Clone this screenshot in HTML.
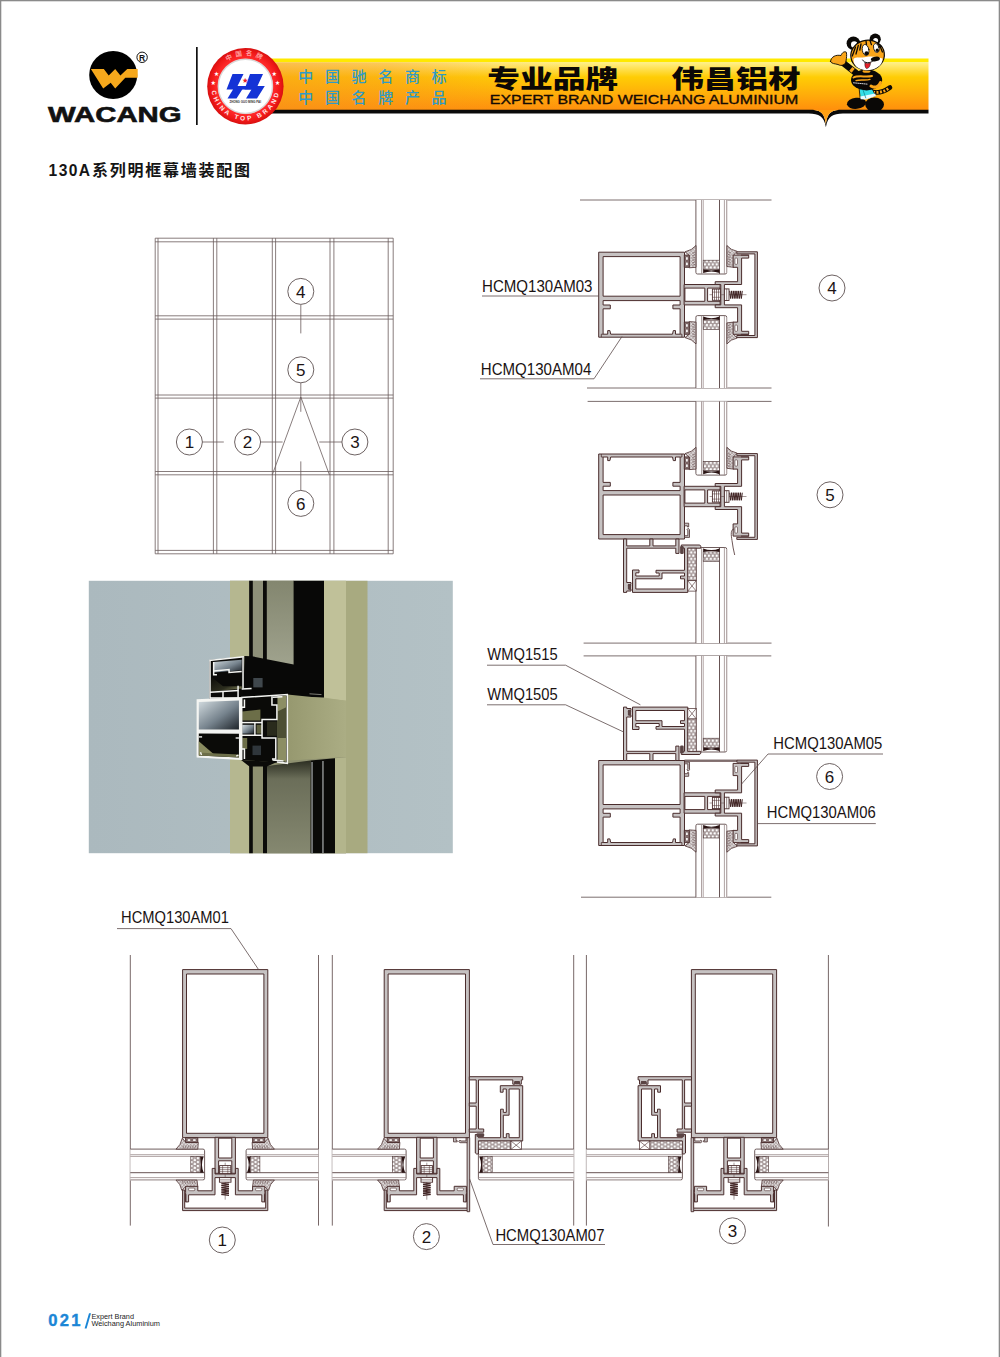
<!DOCTYPE html>
<html lang="zh"><head><meta charset="utf-8"><title>130A系列明框幕墙装配图</title>
<style>
html,body{margin:0;padding:0;background:#fff;}
body{width:1000px;height:1357px;overflow:hidden;position:relative;font-family:"Liberation Sans","Noto Sans CJK SC",sans-serif;}
svg{position:absolute;left:0;top:0;display:block}
text{font-family:"Liberation Sans","Noto Sans CJK SC",sans-serif}
.ln{stroke:#4a3a3a;fill:none;stroke-width:1}
.th{stroke:#6a5c5c;fill:none;stroke-width:0.8}
.al{fill:#c9c5c5;stroke:#4b3030;stroke-width:1;stroke-linejoin:miter}
.alw{fill:#fff;stroke:#4b3030;stroke-width:1}
.lab{font-size:16.5px;fill:#1a1414}
.num{font-size:17px;fill:#1a1414;text-anchor:middle}
</style></head><body>
<svg width="1000" height="1357" viewBox="0 0 1000 1357">
<defs>
<linearGradient id="gbv" x1="0" y1="0" x2="0" y2="1">
<stop offset="0" stop-color="#ffe900"/><stop offset="0.068" stop-color="#ffe900"/>
<stop offset="0.078" stop-color="#fff08a"/><stop offset="0.36" stop-color="#ffcd05"/>
<stop offset="0.7" stop-color="#ffad0a"/><stop offset="1" stop-color="#ff8f0c"/>
</linearGradient>
<linearGradient id="gbh" x1="0" y1="0" x2="1" y2="0">
<stop offset="0" stop-color="#f7931e" stop-opacity="0.55"/><stop offset="0.2" stop-color="#f7931e" stop-opacity="0.4"/>
<stop offset="0.36" stop-color="#f7931e" stop-opacity="0.1"/><stop offset="0.5" stop-color="#f7931e" stop-opacity="0"/><stop offset="1" stop-color="#f7931e" stop-opacity="0"/>
</linearGradient>
<radialGradient id="gred" cx="0.5" cy="0.5" r="0.5">
<stop offset="0.70" stop-color="#e8e8e8"/><stop offset="0.74" stop-color="#ff2a2a"/><stop offset="0.9" stop-color="#f01818"/><stop offset="1" stop-color="#d81010"/>
</radialGradient>
<path id="arcTop" d="M 214.5 86.5 A 31 31 0 0 1 276.5 86.5"/>
<path id="arcBot" d="M 211.5 86.5 A 34 34 0 0 0 279.5 86.5"/>
<pattern id="dots" width="3.9" height="6.4" patternUnits="userSpaceOnUse">
<rect width="3.9" height="6.4" fill="#a79a9a"/><circle cx="0.975" cy="1.6" r="1.22" fill="#fff"/><circle cx="2.925" cy="4.8" r="1.22" fill="#fff"/>
</pattern>
<pattern id="hat" width="2.4" height="2.4" patternUnits="userSpaceOnUse" patternTransform="rotate(45)">
<rect width="2.4" height="2.4" fill="#dfdbdb"/><rect width="2.4" height="0.55" fill="#a79999"/><rect width="0.55" height="2.4" fill="#a79999"/>
</pattern>
</defs>
<rect x="0" y="0" width="1000" height="1357" fill="#fff"/>
<rect x="0" y="0" width="1000" height="1.3" fill="#8a8a8a"/>
<rect x="0" y="0" width="1.3" height="1357" fill="#8a8a8a"/>
<rect x="998.7" y="0" width="1.3" height="1357" fill="#8a8a8a"/>
<circle cx="113.2" cy="75" r="24" fill="#000"/>
<polygon points="90.85,69.05 103.85,69.05 108.7,75.55 115.2,69.05 120.4,75.55 127.25,69.05 137.7,69.05 137.7,77.8 125.3,77.8 115.2,88.55 110.7,82.7 103.2,88.55" style="fill:#f6a81c" />
<circle cx="142.1" cy="57.3" r="5.2" fill="#fff" stroke="#111" stroke-width="1"/>
<text x="142.1" y="60.6" font-size="8.5" font-weight="bold" text-anchor="middle" fill="#111">R</text>
<text x="48" y="121.6" font-size="22.4" font-weight="bold" fill="#111" stroke="#111" stroke-width="0.6" textLength="133.6" lengthAdjust="spacingAndGlyphs">WACANG</text>
<rect x="196" y="47" width="1.7" height="78" fill="#111"/>
<rect x="255" y="58.5" width="673.5" height="51.5" fill="url(#gbv)"/>
<rect x="255" y="62.3" width="673.5" height="47.7" fill="url(#gbh)"/>
<path d="M 255 109.8 L 808.9 109.8 C 819.9 109.8 824.4 112 825.9 124.5 C 827.4 112 831.9 109.8 842.9 109.8 L 928.5 109.8 L 928.5 113.6 L 842.9 113.6 C 832.9 113.8 827.9 116 825.9 127.2 C 823.9 116 818.9 113.8 808.9 113.6 L 255 113.6 Z" fill="#0a0a0a"/>
<path d="M 809.9 109.9 C 819.9 109.9 824.4 112 825.9 124.3 C 827.4 112 831.9 109.9 841.9 109.9 Z" fill="#ffa012"/>
<circle cx="245.4" cy="86.3" r="38.2" fill="url(#gred)"/>
<circle cx="245.4" cy="86.3" r="27" fill="#fff" stroke="#d8d8d8" stroke-width="1.2"/>
<polygon points="232.5,74 243.5,74 237.5,86 244.5,86 236.5,98.5 227.5,98.5 233,89.5 226.5,89.5" style="fill:#1433d6" />
<polygon points="250,74 263,74 257.5,86 264.8,86 257,98.5 246,98.5 251.5,89.5 244.5,89.5" style="fill:#1433d6" />
<polygon points="238,86 258,86 256,89.5 236,89.5" style="fill:#1433d6" />
<text x="245.2" y="81.5" font-size="6" fill="#e8202a" text-anchor="middle" font-family="DejaVu Sans,sans-serif">★</text>
<text x="245.2" y="103.3" font-size="2.9" fill="#333" text-anchor="middle" font-weight="bold">ZHONG GUO MING PAI</text>
<text font-size="6.6" fill="#ff9d9d" font-weight="bold" letter-spacing="3.2"><textPath href="#arcTop" startOffset="50%" text-anchor="middle">中国名牌</textPath></text>
<text font-size="6.4" fill="#ffe9e9" font-weight="bold" letter-spacing="2.55" font-family="Liberation Serif,serif"><textPath href="#arcBot" startOffset="50%" text-anchor="middle">CHINA TOP BRAND</textPath></text>
<text x="216.5" y="75" font-size="5" fill="#fff" text-anchor="middle" font-family="DejaVu Sans,sans-serif">★</text>
<text x="213.2" y="83.5" font-size="5" fill="#fff" text-anchor="middle" font-family="DejaVu Sans,sans-serif">★</text>
<text x="274.3" y="75" font-size="5" fill="#fff" text-anchor="middle" font-family="DejaVu Sans,sans-serif">★</text>
<text x="277.6" y="83.5" font-size="5" fill="#fff" text-anchor="middle" font-family="DejaVu Sans,sans-serif">★</text>
<text x="298.2" y="81.6" fill="#2f9bc6" font-size="15" font-weight="500" textLength="148.4" lengthAdjust="spacing">中国驰名商标</text>
<text x="298.2" y="102.6" fill="#2f9bc6" font-size="15" font-weight="500" textLength="148.4" lengthAdjust="spacing">中国名牌产品</text>
<text x="487.3" y="87.6" fill="#0c0806" font-size="25" font-weight="900" lengthAdjust="spacingAndGlyphs" font-family="Noto Sans CJK SC,sans-serif" textLength="131">专业品牌</text>
<text x="671.6" y="87.6" fill="#0c0806" font-size="25" font-weight="900" lengthAdjust="spacingAndGlyphs" font-family="Noto Sans CJK SC,sans-serif" textLength="129">伟昌铝材</text>
<text x="489.8" y="104.4" fill="#140a04" stroke="#140a04" stroke-width="0.35" font-size="13.6" textLength="308.5" lengthAdjust="spacingAndGlyphs">EXPERT BRAND WEICHANG ALUMINIUM</text>
<g stroke-linejoin="round" stroke-linecap="round">
<path d="M 873 92 C 879 93.5 885 91 890 87.5" stroke="#0a0806" stroke-width="4.6" fill="none"/>
<path d="M 873 92 C 879 93.5 885 91 888.5 88.5" stroke="#f9a51a" stroke-width="2.8" fill="none" stroke-dasharray="2 1.5" stroke-linecap="butt"/>
<ellipse cx="856.5" cy="103.3" rx="9.6" ry="5.6" fill="#0a0806" transform="rotate(-6 856.5 103.3)"/>
<ellipse cx="874.6" cy="104.6" rx="9.4" ry="7.2" fill="#0a0806"/>
<path d="M 859.5 88 L 871 86.5 L 875.5 95.5 L 866 98.5 L 860.5 98 Z" fill="#35dfe6" stroke="#0a0806" stroke-width="0.8"/>
<path d="M 860.3 96.5 L 875.2 93.4 L 876 96 L 866 99.4 L 860.6 99.2 Z" fill="#e8fbff"/>
<path d="M 862.5 88.5 L 865.8 98" stroke="#0b7f8a" stroke-width="0.7" fill="none"/>
<path d="M 856 73 L 842 62" stroke="#0a0806" stroke-width="6.4" fill="none"/>
<path d="M 853.2 70.8 L 850.8 68.9" stroke="#f9a51a" stroke-width="5" fill="none" stroke-linecap="butt"/>
<path d="M 830.5 61.5 C 831 56.5 836 54.5 841 55.5 C 842 52.5 844.5 51 846.3 52.2 C 847 55 846.5 58 846 61 C 845.5 65 841.5 66.5 838 64.5 C 835 63.6 831.5 64 830.5 61.5 Z" fill="#f9a51a" stroke="#0a0806" stroke-width="0.9"/>
<ellipse cx="866.6" cy="80" rx="15.6" ry="10.4" fill="#0a0806"/>
<path d="M 853.5 77.5 C 858 75 866 77.5 872 76" stroke="#f9a51a" stroke-width="2" fill="none"/>
<path d="M 856 80.6 C 860 79.2 866 80.8 870 79.4" stroke="#f9a51a" stroke-width="1.3" fill="none"/>
<path d="M 853.5 82.8 L 868 84.2" stroke="#e9e9e9" stroke-width="0.9" stroke-dasharray="1 1.1" fill="none"/>
<path d="M 871 86 C 874 88 879 87.5 880.5 82.5" stroke="#f9a51a" stroke-width="3" fill="none"/>
<ellipse cx="866.5" cy="71.2" rx="4" ry="1.6" fill="#f9a51a"/>
<circle cx="853.4" cy="43.2" r="6.8" fill="#0a0806"/><circle cx="854.2" cy="44.4" r="3.2" fill="#fff"/>
<circle cx="875.2" cy="39.2" r="5.6" fill="#0a0806"/><circle cx="875.6" cy="40.4" r="2.5" fill="#fff"/>
<ellipse cx="867.6" cy="55.2" rx="16.8" ry="15" fill="#f9a51a" stroke="#0a0806" stroke-width="1.2" transform="rotate(-8 867.6 55.2)"/>
<path d="M 853.5 59 C 855 56.5 862 58 866 57 C 872 56 878 57 882.5 58.5 C 883 66 874 70.5 866 70.2 C 858 69.8 853 65 853.5 59 Z" fill="#fff"/>
<path d="M 855.5 47 L 852.3 56" stroke="#0a0806" stroke-width="1.3" fill="none"/>
<path d="M 858.3 45.3 L 856 54" stroke="#0a0806" stroke-width="1.3" fill="none"/>
<path d="M 861 44 L 859.8 50" stroke="#0a0806" stroke-width="1.3" fill="none"/>
<path d="M 866 41 L 866.5 45" stroke="#0a0806" stroke-width="1.3" fill="none"/>
<path d="M 870 40.6 L 871.4 44.6" stroke="#0a0806" stroke-width="1.3" fill="none"/>
<path d="M 880 46 L 882.4 52" stroke="#0a0806" stroke-width="1.3" fill="none"/>
<path d="M 877.6 43.6 L 880 47" stroke="#0a0806" stroke-width="1.3" fill="none"/>
<ellipse cx="865.6" cy="50" rx="3.3" ry="5.6" fill="#fff" stroke="#0a0806" stroke-width="0.8" transform="rotate(-10 865.6 50)"/>
<ellipse cx="876.3" cy="48" rx="2.7" ry="4.6" fill="#fff" stroke="#0a0806" stroke-width="0.8" transform="rotate(-14 876.3 48)"/>
<ellipse cx="866.6" cy="53.2" rx="2.1" ry="2" fill="#0a0806"/><ellipse cx="877.2" cy="50.2" rx="1.6" ry="1.7" fill="#0a0806"/>
<ellipse cx="875.4" cy="59" rx="4.6" ry="2.3" fill="#0a0806" transform="rotate(-10 875.4 59)"/>
<path d="M 862.6 60 C 864.5 63.5 870 63.6 873.6 60.6" stroke="#0a0806" stroke-width="0.9" fill="none"/>
<path d="M 865 62.8 C 866.6 63.6 869 63.6 870.6 62.6 C 870.2 66.4 868.6 68.6 866.4 68.6 C 865 67.4 864.6 65 865 62.8 Z" fill="#e6202a" stroke="#0a0806" stroke-width="0.5"/>
</g>
<text x="48.6" y="176.3" font-size="15.6" font-weight="bold" fill="#151515" textLength="41.5" lengthAdjust="spacing">130A</text>
<text x="92" y="176.3" font-size="16" font-weight="bold" fill="#151515" textLength="158" lengthAdjust="spacing">系列明框幕墙装配图</text>
<g class="th">
<line x1="155.2" y1="238.2" x2="155.2" y2="553.8" class="None" />
<line x1="158" y1="238.2" x2="158" y2="553.8" class="None" />
<line x1="213.4" y1="238.2" x2="213.4" y2="553.8" class="None" />
<line x1="216.8" y1="238.2" x2="216.8" y2="553.8" class="None" />
<line x1="272.3" y1="238.2" x2="272.3" y2="553.8" class="None" />
<line x1="275.6" y1="238.2" x2="275.6" y2="553.8" class="None" />
<line x1="330" y1="238.2" x2="330" y2="553.8" class="None" />
<line x1="333.9" y1="238.2" x2="333.9" y2="553.8" class="None" />
<line x1="388.2" y1="238.2" x2="388.2" y2="553.8" class="None" />
<line x1="393.2" y1="238.2" x2="393.2" y2="553.8" class="None" />
<line x1="155.2" y1="238.2" x2="393.2" y2="238.2" class="None" />
<line x1="155.2" y1="241.8" x2="393.2" y2="241.8" class="None" />
<line x1="155.2" y1="315.8" x2="393.2" y2="315.8" class="None" />
<line x1="155.2" y1="319.1" x2="393.2" y2="319.1" class="None" />
<line x1="155.2" y1="395" x2="393.2" y2="395" class="None" />
<line x1="155.2" y1="398.1" x2="393.2" y2="398.1" class="None" />
<line x1="155.2" y1="471.5" x2="393.2" y2="471.5" class="None" />
<line x1="155.2" y1="474.8" x2="393.2" y2="474.8" class="None" />
<line x1="155.2" y1="550.4" x2="393.2" y2="550.4" class="None" />
<line x1="155.2" y1="553.8" x2="393.2" y2="553.8" class="None" />
<polyline points="272.3,474.8 300.8,397 329.4,474.8" class="None" />
<line x1="300.8" y1="304.6" x2="300.8" y2="333.4" class="None" />
<line x1="300.8" y1="383" x2="300.8" y2="411.8" class="None" />
<line x1="300.8" y1="461.4" x2="300.8" y2="490.5" class="None" />
<line x1="202.2" y1="442" x2="223.8" y2="442" class="None" />
<line x1="260.5" y1="442" x2="282.6" y2="442" class="None" />
<line x1="319.3" y1="442" x2="342" y2="442" class="None" />
</g>
<circle cx="300.8" cy="291.4" r="13" fill="#fff" stroke="#5c5050" stroke-width="0.9"/>
<text x="300.8" y="297.52" font-size="17" text-anchor="middle" fill="#1c1414">4</text>
<circle cx="300.8" cy="369.8" r="13" fill="#fff" stroke="#5c5050" stroke-width="0.9"/>
<text x="300.8" y="375.92" font-size="17" text-anchor="middle" fill="#1c1414">5</text>
<circle cx="300.8" cy="503.4" r="13" fill="#fff" stroke="#5c5050" stroke-width="0.9"/>
<text x="300.8" y="509.52" font-size="17" text-anchor="middle" fill="#1c1414">6</text>
<circle cx="189.4" cy="442" r="13" fill="#fff" stroke="#5c5050" stroke-width="0.9"/>
<text x="189.4" y="448.12" font-size="17" text-anchor="middle" fill="#1c1414">1</text>
<circle cx="247.6" cy="442" r="13" fill="#fff" stroke="#5c5050" stroke-width="0.9"/>
<text x="247.6" y="448.12" font-size="17" text-anchor="middle" fill="#1c1414">2</text>
<circle cx="354.9" cy="442" r="13" fill="#fff" stroke="#5c5050" stroke-width="0.9"/>
<text x="354.9" y="448.12" font-size="17" text-anchor="middle" fill="#1c1414">3</text>
<g>
<defs><linearGradient id="pgl1" x1="0" y1="0" x2="0" y2="1"><stop offset="0" stop-color="#83866f"/><stop offset="1" stop-color="#a0a38e"/></linearGradient><linearGradient id="pgl2" x1="0" y1="0" x2="0" y2="1"><stop offset="0" stop-color="#2c2e22"/><stop offset="0.2" stop-color="#6b6e59"/><stop offset="1" stop-color="#858870"/></linearGradient><linearGradient id="pbox" x1="0" y1="0" x2="1" y2="1"><stop offset="0" stop-color="#d3dce0"/><stop offset="0.55" stop-color="#76838d"/><stop offset="1" stop-color="#1e242a"/></linearGradient><linearGradient id="ptr" x1="0" y1="0" x2="1" y2="0"><stop offset="0" stop-color="#96986f"/><stop offset="1" stop-color="#abad84"/></linearGradient><linearGradient id="pbg" x1="0" y1="0" x2="1" y2="0"><stop offset="0" stop-color="#abb9be"/><stop offset="1" stop-color="#b3c1c5"/></linearGradient><linearGradient id="pol" x1="0" y1="0" x2="1" y2="1"><stop offset="0" stop-color="#0a0a08"/><stop offset="0.6" stop-color="#2c2d1e"/><stop offset="1" stop-color="#8c8e62"/></linearGradient></defs>
<rect x="88.8" y="580.8" width="364" height="272.4" fill="url(#pbg)"/>
<rect x="230" y="580.8" width="137.5" height="272.4" fill="#a8aa80"/>
<rect x="230" y="580.8" width="19.5" height="272.4" fill="#b5b790"/>
<rect x="249" y="580.8" width="45" height="80" fill="#8e9079"/>
<rect x="267" y="580.8" width="27" height="86" fill="url(#pgl1)"/>
<rect x="249.2" y="580.8" width="3.6" height="80" fill="#0b0b09"/>
<rect x="263" y="580.8" width="3.8" height="80" fill="#0b0b09"/>
<polygon points="324,580.8 346,580.8 346,701 324,697.5" fill="#c0c199" />
<polygon points="293.6,580.8 324,580.8 324,697.6 300,697 243.6,691.5 244.4,656 252,656.3 293.6,664.5" fill="#080807" />
<polygon points="237.3,687.4 300,687.4 300,696.75 287.35,694.77 241.15,697.63 237.3,698.62" fill="#080807" />
<rect x="253.3" y="678" width="9.3" height="9.4" fill="#3f474c"/>
<line x1="309.5" y1="693.8" x2="321.5" y2="694.6" class="None" stroke="#9a9a90" stroke-width="0.8"/>
<polygon points="287.4,694.6 346,700.4 346,757.2 287.4,763.3" fill="url(#ptr)" />
<polygon points="249,763 346,757 346,853.2 249,853.2" fill="#8e9070" />
<polygon points="267,766 310.5,760.5 310.5,853.2 267,853.2" fill="url(#pgl2)" />
<polygon points="249.2,762 252.8,762 252.8,853.2 249.2,853.2" fill="#0b0b09" />
<polygon points="263,766 267,766 267,853.2 263,853.2" fill="#0b0b09" />
<polygon points="310.5,760.6 335,758.2 335,853.2 310.5,853.2" fill="#0a0a08" />
<rect x="311.3" y="762" width="1.5" height="91.2" fill="#8a8e8e"/>
<rect x="322.2" y="761" width="1.5" height="92.2" fill="#8a8e8e"/>
<polygon points="335,758.2 346,757.2 346,853.2 335,853.2" fill="#b3b58c" />
<polygon points="209.25,659.9 243.9,656.82 243.9,694 237.3,698.4 209.25,698.4" fill="#0a0a08" />
<polygon points="213.65,662.1 241.7,659.68 241.7,670.35 213.65,672.55" fill="url(#pbox)" />
<polygon points="210.9,676.4 223,686.3 241.7,686.3 241.7,688.5 210.9,691.8" fill="url(#pol)" />
<polyline points="209.25,660.45 243.9,656.82" fill="none" stroke="#f4f5f2" stroke-width="1.5"/>
<polyline points="210.02,660.45 210.02,698.4" fill="none" stroke="#f4f5f2" stroke-width="1.5"/>
<polyline points="243.02,657.26 243.02,688.5" fill="none" stroke="#f4f5f2" stroke-width="1.5"/>
<polyline points="210.02,692.35 238.4,690.48" fill="none" stroke="#f4f5f2" stroke-width="1.5"/>
<polyline points="210.02,697.96 241.7,697.96" fill="none" stroke="#f4f5f2" stroke-width="1.5"/>
<polyline points="213.65,662.1 213.65,674.75 216.95,674.75" fill="none" stroke="#f4f5f2" stroke-width="1.5"/>
<polyline points="213.65,670.9 229.05,669.58 229.05,672.55 241.7,671.56" fill="none" stroke="#f4f5f2" stroke-width="1.5"/>
<polyline points="223,691.25 223,697.96" fill="none" stroke="#f4f5f2" stroke-width="1.5"/>
<polyline points="238.07,685.75 238.07,697.96" fill="none" stroke="#f4f5f2" stroke-width="1.5"/>
<polyline points="241.7,689.05 251.6,688.5" fill="none" stroke="#f4f5f2" stroke-width="1.5"/>
<polygon points="196.6,699.28 241.15,697.3 241.15,760 196.6,757.58" fill="#f4f5f2" />
<polygon points="198.8,701.92 238.95,700.38 238.95,729.42 198.8,729.42" fill="url(#pbox)" />
<polygon points="198.8,733.6 238.95,733.82 238.95,757.58 198.8,755.6" fill="#0b0b08" />
<polygon points="198.8,741.3 215.3,755.6 198.8,755.6" fill="#8a8c60" />
<polygon points="198.8,755.6 238.95,757.58 238.95,754.5 202.1,752.85" fill="#6d6f4a" />
<polyline points="198.8,736.9 202.1,736.9" fill="none" stroke="#f4f5f2" stroke-width="1.4"/>
<polyline points="235.65,738 238.95,738" fill="none" stroke="#f4f5f2" stroke-width="1.4"/>
<polyline points="200.45,752.3 201.55,755.05" fill="none" stroke="#f4f5f2" stroke-width="1.4"/>
<polyline points="236.2,756.15 238.4,755.05" fill="none" stroke="#f4f5f2" stroke-width="1.4"/>
<polygon points="241.15,697.3 287.35,694.55 287.35,763.3 241.15,760" fill="#0a0a08" />
<polygon points="277.45,696.2 286.25,695.65 286.25,761.98 277.45,760" fill="#8c8e64" />
<polygon points="277.45,711.6 286.25,707.2 286.25,738 277.45,738" fill="#4d4f34" />
<polygon points="267,721.5 276.9,721.5 276.9,735.8 267,735.8" fill="#2a2b1c" />
<polygon points="242.25,711.6 260.4,709.4 260.4,720.4 242.25,720.4" fill="#6c6e48" />
<polygon points="242.25,724.8 253.8,724.8 253.8,733.6 242.25,733.6" fill="url(#pbox)" />
<polygon points="256.55,724.8 262.05,724.8 262.05,733.6 256.55,733.6" fill="#5d5f3e" />
<polygon points="242.25,738 247.2,738 247.2,749 242.25,749" fill="#6c6e48" />
<rect x="252.5" y="745.6" width="8.5" height="9.5" fill="#2f363b"/>
<polyline points="241.15,697.52 287.35,694.55 287.35,763.3 276.9,761.98" fill="none" stroke="#f4f5f2" stroke-width="1.5"/>
<polyline points="241.7,697.3 241.7,760" fill="none" stroke="#f4f5f2" stroke-width="1.5"/>
<polyline points="271.95,696.2 271.95,705 276.9,705 276.9,719.52 262.05,719.52 262.05,738 275.8,738 275.8,758.9 271.95,758.9" fill="none" stroke="#f4f5f2" stroke-width="1.5"/>
<polyline points="241.7,722.6 262.05,722.6" fill="none" stroke="#f4f5f2" stroke-width="1.5"/>
<polyline points="241.7,735.25 262.05,735.25" fill="none" stroke="#f4f5f2" stroke-width="1.5"/>
<polyline points="254.9,722.6 254.9,735.25" fill="none" stroke="#f4f5f2" stroke-width="1.5"/>
<polyline points="241.7,707.2 244.45,707.2 244.45,699.5" fill="none" stroke="#f4f5f2" stroke-width="1.5"/>
<polyline points="241.7,749 244.45,749 244.45,758.9" fill="none" stroke="#f4f5f2" stroke-width="1.5"/>
<polyline points="272.5,697.3 282.4,696.75" fill="none" stroke="#f4f5f2" stroke-width="1.5"/>
<polyline points="272.5,760 283.5,761.1" fill="none" stroke="#f4f5f2" stroke-width="1.5"/>
<polygon points="241.15,760 276.9,761.98 267,766.6 249.4,766.6" fill="#0b0b09" />
</g>
<g transform="translate(684.5,294.7)">
<line x1="-104.5" y1="-94.7" x2="87" y2="-94.7" class="None" stroke="#5a4a4a" stroke-width="0.8"/>
<line x1="-97.5" y1="93.3" x2="87" y2="93.3" class="None" stroke="#5a4a4a" stroke-width="0.8"/>
<path d="M 11.4 -94.7 L 11.4 -22.3 Q 11.4 -20.7 13 -20.7 L 40.6 -20.7 Q 42.2 -20.7 42.2 -22.3 L 42.2 -94.7" fill="#fff" stroke="#5f4b4b" stroke-width="0.9"/>
<line x1="42.2" y1="-22.3" x2="42.2" y2="-94.7" class="None" stroke="#fff" stroke-width="1.3"/>
<line x1="42.1" y1="-22.3" x2="42.1" y2="-94.7" class="None" stroke="#9a8c8c" stroke-width="0.8"/>
<line x1="39.9" y1="-20.7" x2="39.9" y2="-94.7" class="None" stroke="#9a8c8c" stroke-width="0.8"/>
<line x1="17" y1="-20.7" x2="17" y2="-94.7" class="None" stroke="#9a8c8c" stroke-width="0.8"/>
<line x1="18.7" y1="-21.7" x2="18.7" y2="-94.7" class="None" stroke="#9a8c8c" stroke-width="0.8"/>
<line x1="35" y1="-20.7" x2="35" y2="-94.7" class="None" stroke="#5f4b4b" stroke-width="0.95"/>
<rect x="18.7" y="-34.5" width="16.3" height="9.4" fill="url(#dots)" stroke="#4a3333" stroke-width="0.6"/>
<path d="M 18.7 -25.1 L 18.7 -21.6 Q 26.85 -25 35 -21.6 L 35 -25.1 Q 26.85 -23.5 18.7 -25.1 Z" fill="#2a1414"/>
<path d="M 11.4 93.3 L 11.4 22.5 Q 11.4 20.9 13 20.9 L 40.6 20.9 Q 42.2 20.9 42.2 22.5 L 42.2 93.3" fill="#fff" stroke="#5f4b4b" stroke-width="0.9"/>
<line x1="42.2" y1="22.5" x2="42.2" y2="93.3" class="None" stroke="#fff" stroke-width="1.3"/>
<line x1="42.1" y1="22.5" x2="42.1" y2="93.3" class="None" stroke="#9a8c8c" stroke-width="0.8"/>
<line x1="39.9" y1="20.9" x2="39.9" y2="93.3" class="None" stroke="#9a8c8c" stroke-width="0.8"/>
<line x1="17" y1="20.9" x2="17" y2="93.3" class="None" stroke="#9a8c8c" stroke-width="0.8"/>
<line x1="18.7" y1="21.9" x2="18.7" y2="93.3" class="None" stroke="#9a8c8c" stroke-width="0.8"/>
<line x1="35" y1="20.9" x2="35" y2="93.3" class="None" stroke="#5f4b4b" stroke-width="0.95"/>
<rect x="18.7" y="25.3" width="16.3" height="9.4" fill="url(#dots)" stroke="#4a3333" stroke-width="0.6"/>
<path d="M 18.7 25.3 L 18.7 21.8 Q 26.85 25.2 35 21.8 L 35 25.3 Q 26.85 23.7 18.7 25.3 Z" fill="#2a1414"/>
<path d="M -85.8 -42.5 L 0 -42.5 L 0 42.5 L -85.8 42.5 Z M -81.4 -38.1 L -4.4 -38.1 L -4.4 1.5 L -81.4 1.5 Z M -81.4 5.9 L -4.4 5.9 L -4.4 10.3 L -11.6 10.3 L -11.6 14.1 L -4.4 14.1 L -4.4 39.5 L -9 39.5 L -9 35.9 L -11.2 35.9 L -12 39.5 L -73.8 39.5 L -74.6 35.9 L -76.8 35.9 L -76.8 39.5 L -81.4 39.5 L -81.4 14.1 L -74.2 14.1 L -74.2 10.3 L -81.4 10.3 Z " fill="#c6c2c2" stroke="#4a2d2d" stroke-width="1" stroke-linejoin="miter" fill-rule="evenodd" />
<line x1="-83.2" y1="39.5" x2="-83.2" y2="42.5" class="None" stroke="#4a2d2d" stroke-width="0.8"/>
<line x1="-2.6" y1="39.5" x2="-2.6" y2="42.5" class="None" stroke="#4a2d2d" stroke-width="0.8"/>
<line x1="-83.2" y1="39.5" x2="-81.4" y2="39.5" class="None" stroke="#4a2d2d" stroke-width="0.8"/>
<line x1="-4.4" y1="39.5" x2="-2.6" y2="39.5" class="None" stroke="#4a2d2d" stroke-width="0.8"/>
<path d="M -0.4 -10.2 L 35.6 -10.2 L 35.6 10.2 L -0.4 10.2 Z M 0.4 -6.6 L 20.3 -6.6 L 20.3 6.6 L 0.4 6.6 Z M 23.1 -6.6 L 35.6 -6.6 L 35.6 6.6 L 23.1 6.6 Z " fill="#c6c2c2" stroke="#4a2d2d" stroke-width="1" stroke-linejoin="miter" fill-rule="evenodd" />
<path d="M 0.5 -42.9 Q 7.5 -44.4 11.5 -49.2 L 11.5 -27.4 L 4.6 -26.9 L 4.6 -39.4 Z" fill="url(#hat)" stroke="#4a2d2d" stroke-width="0.8"/>
<line x1="7.8" y1="-29.5" x2="11" y2="-30.4" class="None" stroke="#6a5252" stroke-width="0.6"/>
<line x1="7.8" y1="-31.9" x2="11" y2="-32.8" class="None" stroke="#6a5252" stroke-width="0.6"/>
<line x1="7.8" y1="-34.3" x2="11" y2="-35.2" class="None" stroke="#6a5252" stroke-width="0.6"/>
<line x1="7.8" y1="-36.7" x2="11" y2="-37.6" class="None" stroke="#6a5252" stroke-width="0.6"/>
<line x1="7.8" y1="-39.1" x2="11" y2="-40" class="None" stroke="#6a5252" stroke-width="0.6"/>
<line x1="7.8" y1="-41.5" x2="11" y2="-42.4" class="None" stroke="#6a5252" stroke-width="0.6"/>
<path d="M -0.2 -39.6 L 4.8 -39.6 L 4.8 -27.4 L -0.2 -27.4 Z " fill="#8a7676" stroke="#4a2d2d" stroke-width="0.9" stroke-linejoin="miter" fill-rule="evenodd" />
<rect x="1.1" y="-38" width="2.6" height="3.6" fill="#fff" stroke="#4a2d2d" stroke-width="0.6" rx="1"/>
<rect x="1.1" y="-32.6" width="2.6" height="3.6" fill="#fff" stroke="#4a2d2d" stroke-width="0.6" rx="1"/>
<path d="M 0.5 42.9 Q 7.5 44.4 11.5 49.2 L 11.5 27.4 L 4.6 26.9 L 4.6 39.4 Z" fill="url(#hat)" stroke="#4a2d2d" stroke-width="0.8"/>
<line x1="7.8" y1="29.5" x2="11" y2="30.4" class="None" stroke="#6a5252" stroke-width="0.6"/>
<line x1="7.8" y1="31.9" x2="11" y2="32.8" class="None" stroke="#6a5252" stroke-width="0.6"/>
<line x1="7.8" y1="34.3" x2="11" y2="35.2" class="None" stroke="#6a5252" stroke-width="0.6"/>
<line x1="7.8" y1="36.7" x2="11" y2="37.6" class="None" stroke="#6a5252" stroke-width="0.6"/>
<line x1="7.8" y1="39.1" x2="11" y2="40" class="None" stroke="#6a5252" stroke-width="0.6"/>
<line x1="7.8" y1="41.5" x2="11" y2="42.4" class="None" stroke="#6a5252" stroke-width="0.6"/>
<path d="M -0.2 39.6 L 4.8 39.6 L 4.8 27.4 L -0.2 27.4 Z " fill="#8a7676" stroke="#4a2d2d" stroke-width="0.9" stroke-linejoin="miter" fill-rule="evenodd" />
<rect x="1.1" y="34.4" width="2.6" height="3.6" fill="#fff" stroke="#4a2d2d" stroke-width="0.6" rx="1"/>
<rect x="1.1" y="29" width="2.6" height="3.6" fill="#fff" stroke="#4a2d2d" stroke-width="0.6" rx="1"/>
<path d="M 42.4 -49.2 Q 46.2 -44.6 52.6 -43.4 L 49 -39.4 L 49 -27.4 L 42.4 -28.2 Z" fill="url(#hat)" stroke="#4a2d2d" stroke-width="0.8"/>
<line x1="43.1" y1="-30.9" x2="46.2" y2="-30" class="None" stroke="#6a5252" stroke-width="0.6"/>
<line x1="43.1" y1="-33.3" x2="46.2" y2="-32.4" class="None" stroke="#6a5252" stroke-width="0.6"/>
<line x1="43.1" y1="-35.7" x2="46.2" y2="-34.8" class="None" stroke="#6a5252" stroke-width="0.6"/>
<line x1="43.1" y1="-38.1" x2="46.2" y2="-37.2" class="None" stroke="#6a5252" stroke-width="0.6"/>
<line x1="43.1" y1="-40.5" x2="46.2" y2="-39.6" class="None" stroke="#6a5252" stroke-width="0.6"/>
<line x1="43.1" y1="-42.9" x2="46.2" y2="-42" class="None" stroke="#6a5252" stroke-width="0.6"/>
<path d="M 42.4 49.2 Q 46.2 44.6 52.6 43.4 L 49 39.4 L 49 27.4 L 42.4 28.2 Z" fill="url(#hat)" stroke="#4a2d2d" stroke-width="0.8"/>
<line x1="43.1" y1="30.9" x2="46.2" y2="30" class="None" stroke="#6a5252" stroke-width="0.6"/>
<line x1="43.1" y1="33.3" x2="46.2" y2="32.4" class="None" stroke="#6a5252" stroke-width="0.6"/>
<line x1="43.1" y1="35.7" x2="46.2" y2="34.8" class="None" stroke="#6a5252" stroke-width="0.6"/>
<line x1="43.1" y1="38.1" x2="46.2" y2="37.2" class="None" stroke="#6a5252" stroke-width="0.6"/>
<line x1="43.1" y1="40.5" x2="46.2" y2="39.6" class="None" stroke="#6a5252" stroke-width="0.6"/>
<line x1="43.1" y1="42.9" x2="46.2" y2="42" class="None" stroke="#6a5252" stroke-width="0.6"/>
<path d="M 36.3 0 L 36.3 -10.2 L 30.7 -10.2 L 30.7 -13 L 53.1 -13 L 53.1 -27.4 L 48.6 -27.4 L 48.6 -39.6 L 54.6 -39.6 L 64.2 -39.6 L 64.2 -36.6 L 57.1 -36.6 L 57.1 -10.2 L 39.9 -10.2 L 39.9 0 L 39.9 0 L 39.9 10.2 L 57.1 10.2 L 57.1 36.6 L 64.2 36.6 L 64.2 39.6 L 54.6 39.6 L 48.6 39.6 L 48.6 27.4 L 53.1 27.4 L 53.1 13 L 30.7 13 L 30.7 10.2 L 36.3 10.2 L 36.3 0 Z " fill="#c6c2c2" stroke="#4a2d2d" stroke-width="1" stroke-linejoin="miter" fill-rule="evenodd" />
<rect x="50.4" y="-36.6" width="2.6" height="6.2" fill="#fff" stroke="#4a2d2d" stroke-width="0.6" rx="0.8"/>
<rect x="50.4" y="30.4" width="2.6" height="6.2" fill="#fff" stroke="#4a2d2d" stroke-width="0.6" rx="0.8"/>
<path d="M 52.3 -42.9 L 72.9 -42.9 L 72.9 42.9 L 52.3 42.9 L 52.3 40.8 L 70.4 40.8 L 70.4 -40.8 L 52.3 -40.8 Z " fill="#c6c2c2" stroke="#4a2d2d" stroke-width="1" stroke-linejoin="miter" fill-rule="evenodd" />
<line x1="56.5" y1="-39.6" x2="64.5" y2="-39.6" class="None" stroke="#4a2d2d" stroke-width="0.9"/>
<line x1="56.5" y1="39.6" x2="64.5" y2="39.6" class="None" stroke="#4a2d2d" stroke-width="0.9"/>
<line x1="25" y1="0" x2="62" y2="0" class="None" stroke="#6a5555" stroke-width="0.6"/>
<rect x="27.9" y="-5.6" width="8" height="11.2" fill="#fff" stroke="#4a2d2d" stroke-width="0.9"/>
<line x1="30" y1="-5.6" x2="30" y2="5.6" class="None" stroke="#4a2d2d" stroke-width="0.6"/>
<line x1="32" y1="-5.6" x2="32" y2="5.6" class="None" stroke="#4a2d2d" stroke-width="0.6"/>
<line x1="34" y1="-5.6" x2="34" y2="5.6" class="None" stroke="#4a2d2d" stroke-width="0.6"/>
<line x1="27.9" y1="-2.6" x2="36" y2="-2.6" class="None" stroke="#4a2d2d" stroke-width="0.5"/>
<line x1="27.9" y1="2.6" x2="36" y2="2.6" class="None" stroke="#4a2d2d" stroke-width="0.5"/>
<rect x="39.9" y="-5.8" width="4.6" height="11.6" fill="#fff" stroke="#4a2d2d" stroke-width="0.9"/>
<line x1="42.2" y1="-5.8" x2="42.2" y2="5.8" class="None" stroke="#4a2d2d" stroke-width="0.6"/>
<path d="M 45.2 -3.8 L 46.1 3.8 L 47 -3.8 L 47.9 3.8 L 48.8 -3.8 L 49.7 3.8 L 50.6 -3.8 L 51.5 3.8 L 52.4 -3.8 L 53.3 3.8 L 54.2 -3.8 L 55.1 3.8 L 56 -3.8 L 56.9 3.8 L 57.8 -3.8 " fill="none" stroke="#3a1c1c" stroke-width="0.95"/>
</g>
<polyline points="482,296 599,296" fill="none" stroke="#5a4a4a" stroke-width="0.8"/>
<text x="482" y="292.3" font-size="16.6" fill="#1a1212" textLength="110.5" lengthAdjust="spacingAndGlyphs">HCMQ130AM03</text>
<polyline points="480,378.8 594,378.8 622,336.5" fill="none" stroke="#5a4a4a" stroke-width="0.8"/>
<text x="480.8" y="375" font-size="16.6" fill="#1a1212" textLength="110.5" lengthAdjust="spacingAndGlyphs">HCMQ130AM04</text>
<circle cx="832" cy="288" r="13" fill="#fff" stroke="#5c5050" stroke-width="0.9"/>
<text x="832" y="294.12" font-size="17" text-anchor="middle" fill="#1c1414">4</text>
<g transform="translate(684.5,496.5)">
<line x1="-96.9" y1="-95.1" x2="87" y2="-95.1" class="None" stroke="#5a4a4a" stroke-width="0.8"/>
<line x1="-100.9" y1="146.6" x2="87" y2="146.6" class="None" stroke="#5a4a4a" stroke-width="0.8"/>
<path d="M 11.4 -95.1 L 11.4 -23 Q 11.4 -21.4 13 -21.4 L 40.6 -21.4 Q 42.2 -21.4 42.2 -23 L 42.2 -95.1" fill="#fff" stroke="#5f4b4b" stroke-width="0.9"/>
<line x1="42.2" y1="-23" x2="42.2" y2="-95.1" class="None" stroke="#fff" stroke-width="1.3"/>
<line x1="42.1" y1="-23" x2="42.1" y2="-95.1" class="None" stroke="#9a8c8c" stroke-width="0.8"/>
<line x1="39.9" y1="-21.4" x2="39.9" y2="-95.1" class="None" stroke="#9a8c8c" stroke-width="0.8"/>
<line x1="17" y1="-21.4" x2="17" y2="-95.1" class="None" stroke="#9a8c8c" stroke-width="0.8"/>
<line x1="18.7" y1="-22.4" x2="18.7" y2="-95.1" class="None" stroke="#9a8c8c" stroke-width="0.8"/>
<line x1="35" y1="-21.4" x2="35" y2="-95.1" class="None" stroke="#5f4b4b" stroke-width="0.95"/>
<rect x="18.7" y="-35.2" width="16.3" height="9.4" fill="url(#dots)" stroke="#4a3333" stroke-width="0.6"/>
<path d="M 18.7 -25.8 L 18.7 -22.3 Q 26.85 -25.7 35 -22.3 L 35 -25.8 Q 26.85 -24.2 18.7 -25.8 Z" fill="#2a1414"/>
<path d="M 11.4 146.6 L 11.4 52.6 Q 11.4 51 13 51 L 40.6 51 Q 42.2 51 42.2 52.6 L 42.2 146.6" fill="#fff" stroke="#5f4b4b" stroke-width="0.9"/>
<line x1="42.2" y1="52.6" x2="42.2" y2="146.6" class="None" stroke="#fff" stroke-width="1.3"/>
<line x1="42.1" y1="52.6" x2="42.1" y2="146.6" class="None" stroke="#9a8c8c" stroke-width="0.8"/>
<line x1="39.9" y1="51" x2="39.9" y2="146.6" class="None" stroke="#9a8c8c" stroke-width="0.8"/>
<line x1="17" y1="51" x2="17" y2="146.6" class="None" stroke="#9a8c8c" stroke-width="0.8"/>
<line x1="18.7" y1="52" x2="18.7" y2="146.6" class="None" stroke="#9a8c8c" stroke-width="0.8"/>
<line x1="35" y1="51" x2="35" y2="146.6" class="None" stroke="#5f4b4b" stroke-width="0.95"/>
<rect x="18.7" y="55.4" width="16.3" height="9.4" fill="url(#dots)" stroke="#4a3333" stroke-width="0.6"/>
<path d="M 18.7 55.4 L 18.7 51.9 Q 26.85 55.3 35 51.9 L 35 55.4 Q 26.85 53.8 18.7 55.4 Z" fill="#2a1414"/>
<g transform="scale(1,-1)"><path d="M -85.8 -42.5 L 0 -42.5 L 0 42.5 L -85.8 42.5 Z M -81.4 -38.1 L -4.4 -38.1 L -4.4 1.5 L -81.4 1.5 Z M -81.4 5.9 L -4.4 5.9 L -4.4 10.3 L -11.6 10.3 L -11.6 14.1 L -4.4 14.1 L -4.4 39.5 L -9 39.5 L -9 35.9 L -11.2 35.9 L -12 39.5 L -73.8 39.5 L -74.6 35.9 L -76.8 35.9 L -76.8 39.5 L -81.4 39.5 L -81.4 14.1 L -74.2 14.1 L -74.2 10.3 L -81.4 10.3 Z " fill="#c6c2c2" stroke="#4a2d2d" stroke-width="1" stroke-linejoin="miter" fill-rule="evenodd" />
<line x1="-83.2" y1="39.5" x2="-83.2" y2="42.5" class="None" stroke="#4a2d2d" stroke-width="0.8"/>
<line x1="-2.6" y1="39.5" x2="-2.6" y2="42.5" class="None" stroke="#4a2d2d" stroke-width="0.8"/>
<line x1="-83.2" y1="39.5" x2="-81.4" y2="39.5" class="None" stroke="#4a2d2d" stroke-width="0.8"/>
<line x1="-4.4" y1="39.5" x2="-2.6" y2="39.5" class="None" stroke="#4a2d2d" stroke-width="0.8"/>
</g>
<path d="M -0.4 -10.2 L 35.6 -10.2 L 35.6 10.2 L -0.4 10.2 Z M 0.4 -6.6 L 20.3 -6.6 L 20.3 6.6 L 0.4 6.6 Z M 23.1 -6.6 L 35.6 -6.6 L 35.6 6.6 L 23.1 6.6 Z " fill="#c6c2c2" stroke="#4a2d2d" stroke-width="1" stroke-linejoin="miter" fill-rule="evenodd" />
<path d="M 0.5 -42.9 Q 7.5 -44.4 11.5 -49.2 L 11.5 -27.4 L 4.6 -26.9 L 4.6 -39.4 Z" fill="url(#hat)" stroke="#4a2d2d" stroke-width="0.8"/>
<line x1="7.8" y1="-29.5" x2="11" y2="-30.4" class="None" stroke="#6a5252" stroke-width="0.6"/>
<line x1="7.8" y1="-31.9" x2="11" y2="-32.8" class="None" stroke="#6a5252" stroke-width="0.6"/>
<line x1="7.8" y1="-34.3" x2="11" y2="-35.2" class="None" stroke="#6a5252" stroke-width="0.6"/>
<line x1="7.8" y1="-36.7" x2="11" y2="-37.6" class="None" stroke="#6a5252" stroke-width="0.6"/>
<line x1="7.8" y1="-39.1" x2="11" y2="-40" class="None" stroke="#6a5252" stroke-width="0.6"/>
<line x1="7.8" y1="-41.5" x2="11" y2="-42.4" class="None" stroke="#6a5252" stroke-width="0.6"/>
<path d="M -0.2 -39.6 L 4.8 -39.6 L 4.8 -27.4 L -0.2 -27.4 Z " fill="#8a7676" stroke="#4a2d2d" stroke-width="0.9" stroke-linejoin="miter" fill-rule="evenodd" />
<rect x="1.1" y="-38" width="2.6" height="3.6" fill="#fff" stroke="#4a2d2d" stroke-width="0.6" rx="1"/>
<rect x="1.1" y="-32.6" width="2.6" height="3.6" fill="#fff" stroke="#4a2d2d" stroke-width="0.6" rx="1"/>
<path d="M 42.4 -49.2 Q 46.2 -44.6 52.6 -43.4 L 49 -39.4 L 49 -27.4 L 42.4 -28.2 Z" fill="url(#hat)" stroke="#4a2d2d" stroke-width="0.8"/>
<line x1="43.1" y1="-30.9" x2="46.2" y2="-30" class="None" stroke="#6a5252" stroke-width="0.6"/>
<line x1="43.1" y1="-33.3" x2="46.2" y2="-32.4" class="None" stroke="#6a5252" stroke-width="0.6"/>
<line x1="43.1" y1="-35.7" x2="46.2" y2="-34.8" class="None" stroke="#6a5252" stroke-width="0.6"/>
<line x1="43.1" y1="-38.1" x2="46.2" y2="-37.2" class="None" stroke="#6a5252" stroke-width="0.6"/>
<line x1="43.1" y1="-40.5" x2="46.2" y2="-39.6" class="None" stroke="#6a5252" stroke-width="0.6"/>
<line x1="43.1" y1="-42.9" x2="46.2" y2="-42" class="None" stroke="#6a5252" stroke-width="0.6"/>
<path d="M 0 26.7 L 4.2 26.7 L 4.2 30.4 L 2.9 30.4 L 2.9 29.3 L 0 29.3 Z " fill="#c6c2c2" stroke="#4a2d2d" stroke-width="0.8" stroke-linejoin="miter" fill-rule="evenodd" />
<path d="M 0 40.9 L 5 40.9 L 5 33.2 L 3.7 31.8 L 2.5 33.2 L 3.3 34.2 L 3.3 39.2 L 0 39.2 Z " fill="#c6c2c2" stroke="#4a2d2d" stroke-width="0.8" stroke-linejoin="miter" fill-rule="evenodd" />
<path d="M 36.3 0 L 36.3 -10.2 L 30.7 -10.2 L 30.7 -13 L 53.1 -13 L 53.1 -27.4 L 48.6 -27.4 L 48.6 -39.6 L 54.6 -39.6 L 64.2 -39.6 L 64.2 -36.6 L 57.1 -36.6 L 57.1 -10.2 L 39.9 -10.2 L 39.9 0 L 39.9 0 L 39.9 10.2 L 57.1 10.2 L 57.1 36.6 L 64.2 36.6 L 64.2 39.6 L 54.6 39.6 L 48.6 39.6 L 48.6 27.4 L 53.1 27.4 L 53.1 13 L 30.7 13 L 30.7 10.2 L 36.3 10.2 L 36.3 0 Z " fill="#c6c2c2" stroke="#4a2d2d" stroke-width="1" stroke-linejoin="miter" fill-rule="evenodd" />
<rect x="50.4" y="-36.6" width="2.6" height="6.2" fill="#fff" stroke="#4a2d2d" stroke-width="0.6" rx="0.8"/>
<rect x="50.4" y="30.4" width="2.6" height="6.2" fill="#fff" stroke="#4a2d2d" stroke-width="0.6" rx="0.8"/>
<path d="M 52.3 -42.9 L 72.9 -42.9 L 72.9 42.9 L 52.3 42.9 L 52.3 40.8 L 70.4 40.8 L 70.4 -40.8 L 52.3 -40.8 Z " fill="#c6c2c2" stroke="#4a2d2d" stroke-width="1" stroke-linejoin="miter" fill-rule="evenodd" />
<line x1="56.5" y1="-39.6" x2="64.5" y2="-39.6" class="None" stroke="#4a2d2d" stroke-width="0.9"/>
<line x1="56.5" y1="39.6" x2="64.5" y2="39.6" class="None" stroke="#4a2d2d" stroke-width="0.9"/>
<line x1="25" y1="0" x2="62" y2="0" class="None" stroke="#6a5555" stroke-width="0.6"/>
<rect x="27.9" y="-5.6" width="8" height="11.2" fill="#fff" stroke="#4a2d2d" stroke-width="0.9"/>
<line x1="30" y1="-5.6" x2="30" y2="5.6" class="None" stroke="#4a2d2d" stroke-width="0.6"/>
<line x1="32" y1="-5.6" x2="32" y2="5.6" class="None" stroke="#4a2d2d" stroke-width="0.6"/>
<line x1="34" y1="-5.6" x2="34" y2="5.6" class="None" stroke="#4a2d2d" stroke-width="0.6"/>
<line x1="27.9" y1="-2.6" x2="36" y2="-2.6" class="None" stroke="#4a2d2d" stroke-width="0.5"/>
<line x1="27.9" y1="2.6" x2="36" y2="2.6" class="None" stroke="#4a2d2d" stroke-width="0.5"/>
<rect x="39.9" y="-5.8" width="4.6" height="11.6" fill="#fff" stroke="#4a2d2d" stroke-width="0.9"/>
<line x1="42.2" y1="-5.8" x2="42.2" y2="5.8" class="None" stroke="#4a2d2d" stroke-width="0.6"/>
<path d="M 45.2 -3.8 L 46.1 3.8 L 47 -3.8 L 47.9 3.8 L 48.8 -3.8 L 49.7 3.8 L 50.6 -3.8 L 51.5 3.8 L 52.4 -3.8 L 53.3 3.8 L 54.2 -3.8 L 55.1 3.8 L 56 -3.8 L 56.9 3.8 L 57.8 -3.8 " fill="none" stroke="#3a1c1c" stroke-width="0.95"/>
<path d="M -61 42.5 L -57.8 42.5 L -57.8 49.4 L -34.7 49.4 L -34.7 42.5 L -31.5 42.5 L -31.5 49.4 L -8.7 49.4 L -8.7 42.5 L -5.5 42.5 L -5.5 56.9 L -8.7 56.9 L -8.7 51.7 L -57.8 51.7 L -57.8 86 L -53.5 86 L -53.5 88 L -56 88 L -56 92.5 L -53.5 92.5 L -53.5 94.5 L -57.8 94.5 L -57.8 95.9 L -61 95.9 Z " fill="#c6c2c2" stroke="#4a2d2d" stroke-width="1" stroke-linejoin="miter" fill-rule="evenodd" />
<path d="M -52 73.5 L -45.5 73.5 L -45.5 76.3 L -48.7 76.3 L -48.7 79.5 L -25.3 79.5 L -25.3 76.5 L -28.5 76.5 L -28.5 73.8 L 0 73.8 L 0 51.7 L -3.2 51.7 L -3.2 48.5 L 15.3 48.5 L 16.3 49.8 L 16.3 51.7 L 3.3 51.7 L 3.3 95.9 L -52 95.9 Z M -48.7 82.3 L -22.5 82.3 L -22.5 76.5 L 0 76.5 L 0 79.5 L -4 79.5 L -4 82.3 L 0 82.3 L 0 92.5 L -48.7 92.5 Z " fill="#c6c2c2" stroke="#4a2d2d" stroke-width="1" stroke-linejoin="miter" fill-rule="evenodd" />
<rect x="3.3" y="51.7" width="8.4" height="32.5" fill="url(#dots)" stroke="#4a2d2d" stroke-width="0.7"/>
<rect x="3.3" y="84.2" width="8.4" height="10.4" fill="#fff" stroke="#4a2d2d" stroke-width="0.7"/>
<line x1="3.3" y1="84.2" x2="11.7" y2="94.6" class="None" stroke="#4a2d2d" stroke-width="0.6"/>
<line x1="11.7" y1="84.2" x2="3.3" y2="94.6" class="None" stroke="#4a2d2d" stroke-width="0.6"/>
<rect x="-4.4" y="49.6" width="3.6" height="7.8" fill="#5a4444" rx="1.2"/>
<rect x="-56.6" y="87.4" width="3.4" height="5.8" fill="#5a4444" rx="1.4"/>
<path d="M 49.5 32.5 C 46 33 46.5 38 47.5 44 C 48.2 49 49 54 50.2 58.5" fill="none" stroke="#4a2d2d" stroke-width="0.8"/>
</g>
<circle cx="830" cy="494.8" r="13" fill="#fff" stroke="#5c5050" stroke-width="0.9"/>
<text x="830" y="500.92" font-size="17" text-anchor="middle" fill="#1c1414">5</text>
<g transform="translate(684.5,803)">
<line x1="-100.9" y1="-147.1" x2="86.8" y2="-147.1" class="None" stroke="#5a4a4a" stroke-width="0.8"/>
<line x1="-103.5" y1="94.2" x2="86.8" y2="94.2" class="None" stroke="#5a4a4a" stroke-width="0.8"/>
<path d="M 11.4 -147.1 L 11.4 -52.6 Q 11.4 -51 13 -51 L 40.6 -51 Q 42.2 -51 42.2 -52.6 L 42.2 -147.1" fill="#fff" stroke="#5f4b4b" stroke-width="0.9"/>
<line x1="42.2" y1="-52.6" x2="42.2" y2="-147.1" class="None" stroke="#fff" stroke-width="1.3"/>
<line x1="42.1" y1="-52.6" x2="42.1" y2="-147.1" class="None" stroke="#9a8c8c" stroke-width="0.8"/>
<line x1="39.9" y1="-51" x2="39.9" y2="-147.1" class="None" stroke="#9a8c8c" stroke-width="0.8"/>
<line x1="17" y1="-51" x2="17" y2="-147.1" class="None" stroke="#9a8c8c" stroke-width="0.8"/>
<line x1="18.7" y1="-52" x2="18.7" y2="-147.1" class="None" stroke="#9a8c8c" stroke-width="0.8"/>
<line x1="35" y1="-51" x2="35" y2="-147.1" class="None" stroke="#5f4b4b" stroke-width="0.95"/>
<rect x="18.7" y="-64.8" width="16.3" height="9.4" fill="url(#dots)" stroke="#4a3333" stroke-width="0.6"/>
<path d="M 18.7 -55.4 L 18.7 -51.9 Q 26.85 -55.3 35 -51.9 L 35 -55.4 Q 26.85 -53.8 18.7 -55.4 Z" fill="#2a1414"/>
<path d="M 11.4 94.2 L 11.4 22.8 Q 11.4 21.2 13 21.2 L 40.6 21.2 Q 42.2 21.2 42.2 22.8 L 42.2 94.2" fill="#fff" stroke="#5f4b4b" stroke-width="0.9"/>
<line x1="42.2" y1="22.8" x2="42.2" y2="94.2" class="None" stroke="#fff" stroke-width="1.3"/>
<line x1="42.1" y1="22.8" x2="42.1" y2="94.2" class="None" stroke="#9a8c8c" stroke-width="0.8"/>
<line x1="39.9" y1="21.2" x2="39.9" y2="94.2" class="None" stroke="#9a8c8c" stroke-width="0.8"/>
<line x1="17" y1="21.2" x2="17" y2="94.2" class="None" stroke="#9a8c8c" stroke-width="0.8"/>
<line x1="18.7" y1="22.2" x2="18.7" y2="94.2" class="None" stroke="#9a8c8c" stroke-width="0.8"/>
<line x1="35" y1="21.2" x2="35" y2="94.2" class="None" stroke="#5f4b4b" stroke-width="0.95"/>
<rect x="18.7" y="25.6" width="16.3" height="9.4" fill="url(#dots)" stroke="#4a3333" stroke-width="0.6"/>
<path d="M 18.7 25.6 L 18.7 22.1 Q 26.85 25.5 35 22.1 L 35 25.6 Q 26.85 24 18.7 25.6 Z" fill="#2a1414"/>
<path d="M -85.8 -42.5 L 0 -42.5 L 0 42.5 L -85.8 42.5 Z M -81.4 -38.1 L -4.4 -38.1 L -4.4 1.5 L -81.4 1.5 Z M -81.4 5.9 L -4.4 5.9 L -4.4 10.3 L -11.6 10.3 L -11.6 14.1 L -4.4 14.1 L -4.4 39.5 L -9 39.5 L -9 35.9 L -11.2 35.9 L -12 39.5 L -73.8 39.5 L -74.6 35.9 L -76.8 35.9 L -76.8 39.5 L -81.4 39.5 L -81.4 14.1 L -74.2 14.1 L -74.2 10.3 L -81.4 10.3 Z " fill="#c6c2c2" stroke="#4a2d2d" stroke-width="1" stroke-linejoin="miter" fill-rule="evenodd" />
<line x1="-83.2" y1="39.5" x2="-83.2" y2="42.5" class="None" stroke="#4a2d2d" stroke-width="0.8"/>
<line x1="-2.6" y1="39.5" x2="-2.6" y2="42.5" class="None" stroke="#4a2d2d" stroke-width="0.8"/>
<line x1="-83.2" y1="39.5" x2="-81.4" y2="39.5" class="None" stroke="#4a2d2d" stroke-width="0.8"/>
<line x1="-4.4" y1="39.5" x2="-2.6" y2="39.5" class="None" stroke="#4a2d2d" stroke-width="0.8"/>
<path d="M -0.4 -10.2 L 35.6 -10.2 L 35.6 10.2 L -0.4 10.2 Z M 0.4 -6.6 L 20.3 -6.6 L 20.3 6.6 L 0.4 6.6 Z M 23.1 -6.6 L 35.6 -6.6 L 35.6 6.6 L 23.1 6.6 Z " fill="#c6c2c2" stroke="#4a2d2d" stroke-width="1" stroke-linejoin="miter" fill-rule="evenodd" />
<path d="M 0.5 42.9 Q 7.5 44.4 11.5 49.2 L 11.5 27.4 L 4.6 26.9 L 4.6 39.4 Z" fill="url(#hat)" stroke="#4a2d2d" stroke-width="0.8"/>
<line x1="7.8" y1="29.5" x2="11" y2="30.4" class="None" stroke="#6a5252" stroke-width="0.6"/>
<line x1="7.8" y1="31.9" x2="11" y2="32.8" class="None" stroke="#6a5252" stroke-width="0.6"/>
<line x1="7.8" y1="34.3" x2="11" y2="35.2" class="None" stroke="#6a5252" stroke-width="0.6"/>
<line x1="7.8" y1="36.7" x2="11" y2="37.6" class="None" stroke="#6a5252" stroke-width="0.6"/>
<line x1="7.8" y1="39.1" x2="11" y2="40" class="None" stroke="#6a5252" stroke-width="0.6"/>
<line x1="7.8" y1="41.5" x2="11" y2="42.4" class="None" stroke="#6a5252" stroke-width="0.6"/>
<path d="M -0.2 39.6 L 4.8 39.6 L 4.8 27.4 L -0.2 27.4 Z " fill="#8a7676" stroke="#4a2d2d" stroke-width="0.9" stroke-linejoin="miter" fill-rule="evenodd" />
<rect x="1.1" y="34.4" width="2.6" height="3.6" fill="#fff" stroke="#4a2d2d" stroke-width="0.6" rx="1"/>
<rect x="1.1" y="29" width="2.6" height="3.6" fill="#fff" stroke="#4a2d2d" stroke-width="0.6" rx="1"/>
<path d="M 42.4 49.2 Q 46.2 44.6 52.6 43.4 L 49 39.4 L 49 27.4 L 42.4 28.2 Z" fill="url(#hat)" stroke="#4a2d2d" stroke-width="0.8"/>
<line x1="43.1" y1="30.9" x2="46.2" y2="30" class="None" stroke="#6a5252" stroke-width="0.6"/>
<line x1="43.1" y1="33.3" x2="46.2" y2="32.4" class="None" stroke="#6a5252" stroke-width="0.6"/>
<line x1="43.1" y1="35.7" x2="46.2" y2="34.8" class="None" stroke="#6a5252" stroke-width="0.6"/>
<line x1="43.1" y1="38.1" x2="46.2" y2="37.2" class="None" stroke="#6a5252" stroke-width="0.6"/>
<line x1="43.1" y1="40.5" x2="46.2" y2="39.6" class="None" stroke="#6a5252" stroke-width="0.6"/>
<line x1="43.1" y1="42.9" x2="46.2" y2="42" class="None" stroke="#6a5252" stroke-width="0.6"/>
<path d="M 0 -26.7 L 4.2 -26.7 L 4.2 -30.4 L 2.9 -30.4 L 2.9 -29.3 L 0 -29.3 Z " fill="#c6c2c2" stroke="#4a2d2d" stroke-width="0.8" stroke-linejoin="miter" fill-rule="evenodd" />
<path d="M 0 -40.9 L 5 -40.9 L 5 -33.2 L 3.7 -31.8 L 2.5 -33.2 L 3.3 -34.2 L 3.3 -39.2 L 0 -39.2 Z " fill="#c6c2c2" stroke="#4a2d2d" stroke-width="0.8" stroke-linejoin="miter" fill-rule="evenodd" />
<path d="M 36.3 0 L 36.3 -10.2 L 30.7 -10.2 L 30.7 -13 L 53.1 -13 L 53.1 -27.4 L 48.6 -27.4 L 48.6 -39.6 L 54.6 -39.6 L 64.2 -39.6 L 64.2 -36.6 L 57.1 -36.6 L 57.1 -10.2 L 39.9 -10.2 L 39.9 0 L 39.9 0 L 39.9 10.2 L 57.1 10.2 L 57.1 36.6 L 64.2 36.6 L 64.2 39.6 L 54.6 39.6 L 48.6 39.6 L 48.6 27.4 L 53.1 27.4 L 53.1 13 L 30.7 13 L 30.7 10.2 L 36.3 10.2 L 36.3 0 Z " fill="#c6c2c2" stroke="#4a2d2d" stroke-width="1" stroke-linejoin="miter" fill-rule="evenodd" />
<rect x="50.4" y="-36.6" width="2.6" height="6.2" fill="#fff" stroke="#4a2d2d" stroke-width="0.6" rx="0.8"/>
<rect x="50.4" y="30.4" width="2.6" height="6.2" fill="#fff" stroke="#4a2d2d" stroke-width="0.6" rx="0.8"/>
<path d="M 52.3 -42.9 L 72.9 -42.9 L 72.9 42.9 L 52.3 42.9 L 52.3 40.8 L 70.4 40.8 L 70.4 -40.8 L 52.3 -40.8 Z " fill="#c6c2c2" stroke="#4a2d2d" stroke-width="1" stroke-linejoin="miter" fill-rule="evenodd" />
<line x1="56.5" y1="-39.6" x2="64.5" y2="-39.6" class="None" stroke="#4a2d2d" stroke-width="0.9"/>
<line x1="56.5" y1="39.6" x2="64.5" y2="39.6" class="None" stroke="#4a2d2d" stroke-width="0.9"/>
<path d="M 0 -42.9 L 52.3 -42.9 L 52.3 -41.7 L 0 -41.7 Z " fill="#c6c2c2" stroke="#4a2d2d" stroke-width="0.8" stroke-linejoin="miter" fill-rule="evenodd" />
<line x1="25" y1="0" x2="62" y2="0" class="None" stroke="#6a5555" stroke-width="0.6"/>
<rect x="27.9" y="-5.6" width="8" height="11.2" fill="#fff" stroke="#4a2d2d" stroke-width="0.9"/>
<line x1="30" y1="-5.6" x2="30" y2="5.6" class="None" stroke="#4a2d2d" stroke-width="0.6"/>
<line x1="32" y1="-5.6" x2="32" y2="5.6" class="None" stroke="#4a2d2d" stroke-width="0.6"/>
<line x1="34" y1="-5.6" x2="34" y2="5.6" class="None" stroke="#4a2d2d" stroke-width="0.6"/>
<line x1="27.9" y1="-2.6" x2="36" y2="-2.6" class="None" stroke="#4a2d2d" stroke-width="0.5"/>
<line x1="27.9" y1="2.6" x2="36" y2="2.6" class="None" stroke="#4a2d2d" stroke-width="0.5"/>
<rect x="39.9" y="-5.8" width="4.6" height="11.6" fill="#fff" stroke="#4a2d2d" stroke-width="0.9"/>
<line x1="42.2" y1="-5.8" x2="42.2" y2="5.8" class="None" stroke="#4a2d2d" stroke-width="0.6"/>
<path d="M 45.2 -3.8 L 46.1 3.8 L 47 -3.8 L 47.9 3.8 L 48.8 -3.8 L 49.7 3.8 L 50.6 -3.8 L 51.5 3.8 L 52.4 -3.8 L 53.3 3.8 L 54.2 -3.8 L 55.1 3.8 L 56 -3.8 L 56.9 3.8 L 57.8 -3.8 " fill="none" stroke="#3a1c1c" stroke-width="0.95"/>
<path d="M -61 -42.5 L -57.8 -42.5 L -57.8 -49.4 L -34.7 -49.4 L -34.7 -42.5 L -31.5 -42.5 L -31.5 -49.4 L -8.7 -49.4 L -8.7 -42.5 L -5.5 -42.5 L -5.5 -56.9 L -8.7 -56.9 L -8.7 -51.7 L -57.8 -51.7 L -57.8 -86 L -53.5 -86 L -53.5 -88 L -56 -88 L -56 -92.5 L -53.5 -92.5 L -53.5 -94.5 L -57.8 -94.5 L -57.8 -95.9 L -61 -95.9 Z " fill="#c6c2c2" stroke="#4a2d2d" stroke-width="1" stroke-linejoin="miter" fill-rule="evenodd" />
<path d="M -52 -73.5 L -45.5 -73.5 L -45.5 -76.3 L -48.7 -76.3 L -48.7 -79.5 L -25.3 -79.5 L -25.3 -76.5 L -28.5 -76.5 L -28.5 -73.8 L 0 -73.8 L 0 -51.7 L -3.2 -51.7 L -3.2 -48.5 L 15.3 -48.5 L 16.3 -49.8 L 16.3 -51.7 L 3.3 -51.7 L 3.3 -95.9 L -52 -95.9 Z M -48.7 -82.3 L -22.5 -82.3 L -22.5 -76.5 L 0 -76.5 L 0 -79.5 L -4 -79.5 L -4 -82.3 L 0 -82.3 L 0 -92.5 L -48.7 -92.5 Z " fill="#c6c2c2" stroke="#4a2d2d" stroke-width="1" stroke-linejoin="miter" fill-rule="evenodd" />
<rect x="3.3" y="-84.2" width="8.4" height="32.5" fill="url(#dots)" stroke="#4a2d2d" stroke-width="0.7"/>
<rect x="3.3" y="-94.6" width="8.4" height="10.4" fill="#fff" stroke="#4a2d2d" stroke-width="0.7"/>
<line x1="3.3" y1="-94.6" x2="11.7" y2="-84.2" class="None" stroke="#4a2d2d" stroke-width="0.6"/>
<line x1="11.7" y1="-94.6" x2="3.3" y2="-84.2" class="None" stroke="#4a2d2d" stroke-width="0.6"/>
<rect x="-4.4" y="-57.4" width="3.6" height="7.8" fill="#5a4444" rx="1.2"/>
<rect x="-56.6" y="-93.2" width="3.4" height="5.8" fill="#5a4444" rx="1.4"/>
</g>
<polyline points="487,665.2 565.6,665.2 640.4,704.8" fill="none" stroke="#5a4a4a" stroke-width="0.8"/>
<text x="487.3" y="660" font-size="16.6" fill="#1a1212" textLength="70.4" lengthAdjust="spacingAndGlyphs">WMQ1515</text>
<polyline points="487,704.8 565.6,704.8 623.7,732" fill="none" stroke="#5a4a4a" stroke-width="0.8"/>
<text x="487.3" y="699.5" font-size="16.6" fill="#1a1212" textLength="70.4" lengthAdjust="spacingAndGlyphs">WMQ1505</text>
<polyline points="883,754 768,754 741.6,784" fill="none" stroke="#5a4a4a" stroke-width="0.8"/>
<text x="773.3" y="748.8" font-size="16.6" fill="#1a1212" textLength="109" lengthAdjust="spacingAndGlyphs">HCMQ130AM05</text>
<polyline points="757.5,823.6 875.8,823.6" fill="none" stroke="#5a4a4a" stroke-width="0.8"/>
<text x="766.7" y="818" font-size="16.6" fill="#1a1212" textLength="109" lengthAdjust="spacingAndGlyphs">HCMQ130AM06</text>
<circle cx="829.6" cy="776.5" r="13" fill="#fff" stroke="#5c5050" stroke-width="0.9"/>
<text x="829.6" y="782.62" font-size="17" text-anchor="middle" fill="#1c1414">6</text>
<line x1="130.3" y1="955" x2="130.3" y2="1225.6" class="None" stroke="#5f4b4b" stroke-width="0.85"/>
<line x1="318.5" y1="955" x2="318.5" y2="1225.6" class="None" stroke="#5f4b4b" stroke-width="0.85"/>
<line x1="332.3" y1="955" x2="332.3" y2="1225.6" class="None" stroke="#5f4b4b" stroke-width="0.85"/>
<line x1="573.7" y1="955" x2="573.7" y2="1225.6" class="None" stroke="#5f4b4b" stroke-width="0.85"/>
<line x1="586.4" y1="955" x2="586.4" y2="1225.6" class="None" stroke="#5f4b4b" stroke-width="0.85"/>
<line x1="828.4" y1="955" x2="828.4" y2="1226.5" class="None" stroke="#5f4b4b" stroke-width="0.85"/>
<g transform="translate(225.2,1137.7) rotate(90)">
<path d="M 11.4 94.9 L 11.4 22.2 Q 11.4 20.6 13 20.6 L 40.6 20.6 Q 42.2 20.6 42.2 22.2 L 42.2 94.9" fill="#fff" stroke="#5f4b4b" stroke-width="0.9"/>
<line x1="42.2" y1="22.2" x2="42.2" y2="94.9" class="None" stroke="#fff" stroke-width="1.3"/>
<line x1="42.1" y1="22.2" x2="42.1" y2="94.9" class="None" stroke="#9a8c8c" stroke-width="0.8"/>
<line x1="39.9" y1="20.6" x2="39.9" y2="94.9" class="None" stroke="#9a8c8c" stroke-width="0.8"/>
<line x1="17" y1="20.6" x2="17" y2="94.9" class="None" stroke="#9a8c8c" stroke-width="0.8"/>
<line x1="18.7" y1="21.6" x2="18.7" y2="94.9" class="None" stroke="#9a8c8c" stroke-width="0.8"/>
<line x1="35" y1="20.6" x2="35" y2="94.9" class="None" stroke="#5f4b4b" stroke-width="0.95"/>
<rect x="18.7" y="25" width="16.3" height="9.4" fill="url(#dots)" stroke="#4a3333" stroke-width="0.6"/>
<path d="M 18.7 25 L 18.7 21.5 Q 26.85 24.9 35 21.5 L 35 25 Q 26.85 23.4 18.7 25 Z" fill="#2a1414"/>
<path d="M 11.4 -93.3 L 11.4 -22.5 Q 11.4 -20.9 13 -20.9 L 40.6 -20.9 Q 42.2 -20.9 42.2 -22.5 L 42.2 -93.3" fill="#fff" stroke="#5f4b4b" stroke-width="0.9"/>
<line x1="42.2" y1="-22.5" x2="42.2" y2="-93.3" class="None" stroke="#fff" stroke-width="1.3"/>
<line x1="42.1" y1="-22.5" x2="42.1" y2="-93.3" class="None" stroke="#9a8c8c" stroke-width="0.8"/>
<line x1="39.9" y1="-20.9" x2="39.9" y2="-93.3" class="None" stroke="#9a8c8c" stroke-width="0.8"/>
<line x1="17" y1="-20.9" x2="17" y2="-93.3" class="None" stroke="#9a8c8c" stroke-width="0.8"/>
<line x1="18.7" y1="-21.9" x2="18.7" y2="-93.3" class="None" stroke="#9a8c8c" stroke-width="0.8"/>
<line x1="35" y1="-20.9" x2="35" y2="-93.3" class="None" stroke="#5f4b4b" stroke-width="0.95"/>
<rect x="18.7" y="-34.7" width="16.3" height="9.4" fill="url(#dots)" stroke="#4a3333" stroke-width="0.6"/>
<path d="M 18.7 -25.3 L 18.7 -21.8 Q 26.85 -25.2 35 -21.8 L 35 -25.3 Q 26.85 -23.7 18.7 -25.3 Z" fill="#2a1414"/>
<path d="M -168.1 -42.6 L 0 -42.6 L 0 42.6 L -168.1 42.6 Z M -163.7 -38.7 L -4.4 -38.7 L -4.4 38.7 L -163.7 38.7 Z " fill="#c6c2c2" stroke="#4a2d2d" stroke-width="1" stroke-linejoin="miter" fill-rule="evenodd" />
<path d="M -0.4 -10.2 L 35.6 -10.2 L 35.6 10.2 L -0.4 10.2 Z M 0.4 -6.6 L 20.3 -6.6 L 20.3 6.6 L 0.4 6.6 Z M 23.1 -6.6 L 35.6 -6.6 L 35.6 6.6 L 23.1 6.6 Z " fill="#c6c2c2" stroke="#4a2d2d" stroke-width="1" stroke-linejoin="miter" fill-rule="evenodd" />
<path d="M 0.5 -42.9 Q 7.5 -44.4 11.5 -49.2 L 11.5 -27.4 L 4.6 -26.9 L 4.6 -39.4 Z" fill="url(#hat)" stroke="#4a2d2d" stroke-width="0.8"/>
<line x1="7.8" y1="-29.5" x2="11" y2="-30.4" class="None" stroke="#6a5252" stroke-width="0.6"/>
<line x1="7.8" y1="-31.9" x2="11" y2="-32.8" class="None" stroke="#6a5252" stroke-width="0.6"/>
<line x1="7.8" y1="-34.3" x2="11" y2="-35.2" class="None" stroke="#6a5252" stroke-width="0.6"/>
<line x1="7.8" y1="-36.7" x2="11" y2="-37.6" class="None" stroke="#6a5252" stroke-width="0.6"/>
<line x1="7.8" y1="-39.1" x2="11" y2="-40" class="None" stroke="#6a5252" stroke-width="0.6"/>
<line x1="7.8" y1="-41.5" x2="11" y2="-42.4" class="None" stroke="#6a5252" stroke-width="0.6"/>
<path d="M -0.2 -39.6 L 4.8 -39.6 L 4.8 -27.4 L -0.2 -27.4 Z " fill="#8a7676" stroke="#4a2d2d" stroke-width="0.9" stroke-linejoin="miter" fill-rule="evenodd" />
<rect x="1.1" y="-38" width="2.6" height="3.6" fill="#fff" stroke="#4a2d2d" stroke-width="0.6" rx="1"/>
<rect x="1.1" y="-32.6" width="2.6" height="3.6" fill="#fff" stroke="#4a2d2d" stroke-width="0.6" rx="1"/>
<path d="M 0.5 42.9 Q 7.5 44.4 11.5 49.2 L 11.5 27.4 L 4.6 26.9 L 4.6 39.4 Z" fill="url(#hat)" stroke="#4a2d2d" stroke-width="0.8"/>
<line x1="7.8" y1="29.5" x2="11" y2="30.4" class="None" stroke="#6a5252" stroke-width="0.6"/>
<line x1="7.8" y1="31.9" x2="11" y2="32.8" class="None" stroke="#6a5252" stroke-width="0.6"/>
<line x1="7.8" y1="34.3" x2="11" y2="35.2" class="None" stroke="#6a5252" stroke-width="0.6"/>
<line x1="7.8" y1="36.7" x2="11" y2="37.6" class="None" stroke="#6a5252" stroke-width="0.6"/>
<line x1="7.8" y1="39.1" x2="11" y2="40" class="None" stroke="#6a5252" stroke-width="0.6"/>
<line x1="7.8" y1="41.5" x2="11" y2="42.4" class="None" stroke="#6a5252" stroke-width="0.6"/>
<path d="M -0.2 39.6 L 4.8 39.6 L 4.8 27.4 L -0.2 27.4 Z " fill="#8a7676" stroke="#4a2d2d" stroke-width="0.9" stroke-linejoin="miter" fill-rule="evenodd" />
<rect x="1.1" y="34.4" width="2.6" height="3.6" fill="#fff" stroke="#4a2d2d" stroke-width="0.6" rx="1"/>
<rect x="1.1" y="29" width="2.6" height="3.6" fill="#fff" stroke="#4a2d2d" stroke-width="0.6" rx="1"/>
<path d="M 42.4 -49.2 Q 46.2 -44.6 52.6 -43.4 L 49 -39.4 L 49 -27.4 L 42.4 -28.2 Z" fill="url(#hat)" stroke="#4a2d2d" stroke-width="0.8"/>
<line x1="43.1" y1="-30.9" x2="46.2" y2="-30" class="None" stroke="#6a5252" stroke-width="0.6"/>
<line x1="43.1" y1="-33.3" x2="46.2" y2="-32.4" class="None" stroke="#6a5252" stroke-width="0.6"/>
<line x1="43.1" y1="-35.7" x2="46.2" y2="-34.8" class="None" stroke="#6a5252" stroke-width="0.6"/>
<line x1="43.1" y1="-38.1" x2="46.2" y2="-37.2" class="None" stroke="#6a5252" stroke-width="0.6"/>
<line x1="43.1" y1="-40.5" x2="46.2" y2="-39.6" class="None" stroke="#6a5252" stroke-width="0.6"/>
<line x1="43.1" y1="-42.9" x2="46.2" y2="-42" class="None" stroke="#6a5252" stroke-width="0.6"/>
<path d="M 42.4 49.2 Q 46.2 44.6 52.6 43.4 L 49 39.4 L 49 27.4 L 42.4 28.2 Z" fill="url(#hat)" stroke="#4a2d2d" stroke-width="0.8"/>
<line x1="43.1" y1="30.9" x2="46.2" y2="30" class="None" stroke="#6a5252" stroke-width="0.6"/>
<line x1="43.1" y1="33.3" x2="46.2" y2="32.4" class="None" stroke="#6a5252" stroke-width="0.6"/>
<line x1="43.1" y1="35.7" x2="46.2" y2="34.8" class="None" stroke="#6a5252" stroke-width="0.6"/>
<line x1="43.1" y1="38.1" x2="46.2" y2="37.2" class="None" stroke="#6a5252" stroke-width="0.6"/>
<line x1="43.1" y1="40.5" x2="46.2" y2="39.6" class="None" stroke="#6a5252" stroke-width="0.6"/>
<line x1="43.1" y1="42.9" x2="46.2" y2="42" class="None" stroke="#6a5252" stroke-width="0.6"/>
<path d="M 36.3 0 L 36.3 -10.2 L 30.7 -10.2 L 30.7 -13 L 53.1 -13 L 53.1 -27.4 L 48.6 -27.4 L 48.6 -39.6 L 54.6 -39.6 L 64.2 -39.6 L 64.2 -36.6 L 57.1 -36.6 L 57.1 -10.2 L 39.9 -10.2 L 39.9 0 L 39.9 0 L 39.9 10.2 L 57.1 10.2 L 57.1 36.6 L 64.2 36.6 L 64.2 39.6 L 54.6 39.6 L 48.6 39.6 L 48.6 27.4 L 53.1 27.4 L 53.1 13 L 30.7 13 L 30.7 10.2 L 36.3 10.2 L 36.3 0 Z " fill="#c6c2c2" stroke="#4a2d2d" stroke-width="1" stroke-linejoin="miter" fill-rule="evenodd" />
<rect x="50.4" y="-36.6" width="2.6" height="6.2" fill="#fff" stroke="#4a2d2d" stroke-width="0.6" rx="0.8"/>
<rect x="50.4" y="30.4" width="2.6" height="6.2" fill="#fff" stroke="#4a2d2d" stroke-width="0.6" rx="0.8"/>
<path d="M 52.3 -42.6 L 72.9 -42.6 L 72.9 42.6 L 52.3 42.6 L 52.3 40.5 L 70.4 40.5 L 70.4 -40.5 L 52.3 -40.5 Z " fill="#c6c2c2" stroke="#4a2d2d" stroke-width="1" stroke-linejoin="miter" fill-rule="evenodd" />
<line x1="56.5" y1="-39.3" x2="64.5" y2="-39.3" class="None" stroke="#4a2d2d" stroke-width="0.9"/>
<line x1="56.5" y1="39.3" x2="64.5" y2="39.3" class="None" stroke="#4a2d2d" stroke-width="0.9"/>
<line x1="25" y1="0" x2="62" y2="0" class="None" stroke="#6a5555" stroke-width="0.6"/>
<rect x="27.9" y="-5.6" width="8" height="11.2" fill="#fff" stroke="#4a2d2d" stroke-width="0.9"/>
<line x1="30" y1="-5.6" x2="30" y2="5.6" class="None" stroke="#4a2d2d" stroke-width="0.6"/>
<line x1="32" y1="-5.6" x2="32" y2="5.6" class="None" stroke="#4a2d2d" stroke-width="0.6"/>
<line x1="34" y1="-5.6" x2="34" y2="5.6" class="None" stroke="#4a2d2d" stroke-width="0.6"/>
<line x1="27.9" y1="-2.6" x2="36" y2="-2.6" class="None" stroke="#4a2d2d" stroke-width="0.5"/>
<line x1="27.9" y1="2.6" x2="36" y2="2.6" class="None" stroke="#4a2d2d" stroke-width="0.5"/>
<rect x="39.9" y="-5.8" width="4.6" height="11.6" fill="#fff" stroke="#4a2d2d" stroke-width="0.9"/>
<line x1="42.2" y1="-5.8" x2="42.2" y2="5.8" class="None" stroke="#4a2d2d" stroke-width="0.6"/>
<path d="M 45.2 -3.8 L 46.1 3.8 L 47 -3.8 L 47.9 3.8 L 48.8 -3.8 L 49.7 3.8 L 50.6 -3.8 L 51.5 3.8 L 52.4 -3.8 L 53.3 3.8 L 54.2 -3.8 L 55.1 3.8 L 56 -3.8 L 56.9 3.8 L 57.8 -3.8 " fill="none" stroke="#3a1c1c" stroke-width="0.95"/>
</g>
<polyline points="117,928.6 231,928.6 258.4,969.3" fill="none" stroke="#5a4a4a" stroke-width="0.8"/>
<text x="121" y="923.2" font-size="16.6" fill="#1a1212" textLength="108" lengthAdjust="spacingAndGlyphs">HCMQ130AM01</text>
<circle cx="222.3" cy="1240" r="13" fill="#fff" stroke="#5c5050" stroke-width="0.9"/>
<text x="222.3" y="1246.12" font-size="17" text-anchor="middle" fill="#1c1414">1</text>
<g transform="matrix(0,1,1,0,426.8,1137.7)">
<path d="M 11.4 -94.5 L 11.4 -22.3 Q 11.4 -20.7 13 -20.7 L 40.6 -20.7 Q 42.2 -20.7 42.2 -22.3 L 42.2 -94.5" fill="#fff" stroke="#5f4b4b" stroke-width="0.9"/>
<line x1="42.2" y1="-22.3" x2="42.2" y2="-94.5" class="None" stroke="#fff" stroke-width="1.3"/>
<line x1="42.1" y1="-22.3" x2="42.1" y2="-94.5" class="None" stroke="#9a8c8c" stroke-width="0.8"/>
<line x1="39.9" y1="-20.7" x2="39.9" y2="-94.5" class="None" stroke="#9a8c8c" stroke-width="0.8"/>
<line x1="17" y1="-20.7" x2="17" y2="-94.5" class="None" stroke="#9a8c8c" stroke-width="0.8"/>
<line x1="18.7" y1="-21.7" x2="18.7" y2="-94.5" class="None" stroke="#9a8c8c" stroke-width="0.8"/>
<line x1="35" y1="-20.7" x2="35" y2="-94.5" class="None" stroke="#5f4b4b" stroke-width="0.95"/>
<rect x="18.7" y="-34.5" width="16.3" height="9.4" fill="url(#dots)" stroke="#4a3333" stroke-width="0.6"/>
<path d="M 18.7 -25.1 L 18.7 -21.6 Q 26.85 -25 35 -21.6 L 35 -25.1 Q 26.85 -23.5 18.7 -25.1 Z" fill="#2a1414"/>
<path d="M 11.4 146.9 L 11.4 53.2 Q 11.4 51.6 13 51.6 L 40.6 51.6 Q 42.2 51.6 42.2 53.2 L 42.2 146.9" fill="#fff" stroke="#5f4b4b" stroke-width="0.9"/>
<line x1="42.2" y1="53.2" x2="42.2" y2="146.9" class="None" stroke="#fff" stroke-width="1.3"/>
<line x1="42.1" y1="53.2" x2="42.1" y2="146.9" class="None" stroke="#9a8c8c" stroke-width="0.8"/>
<line x1="39.9" y1="51.6" x2="39.9" y2="146.9" class="None" stroke="#9a8c8c" stroke-width="0.8"/>
<line x1="17" y1="51.6" x2="17" y2="146.9" class="None" stroke="#9a8c8c" stroke-width="0.8"/>
<line x1="18.7" y1="52.6" x2="18.7" y2="146.9" class="None" stroke="#9a8c8c" stroke-width="0.8"/>
<line x1="35" y1="51.6" x2="35" y2="146.9" class="None" stroke="#5f4b4b" stroke-width="0.95"/>
<rect x="18.7" y="56" width="16.3" height="9.4" fill="url(#dots)" stroke="#4a3333" stroke-width="0.6"/>
<path d="M 18.7 56 L 18.7 52.5 Q 26.85 55.9 35 52.5 L 35 56 Q 26.85 54.4 18.7 56 Z" fill="#2a1414"/>
<path d="M -168.1 -42.6 L 0 -42.6 L 0 42.6 L -168.1 42.6 Z M -163.7 -38.7 L -4.4 -38.7 L -4.4 38.7 L -163.7 38.7 Z " fill="#c6c2c2" stroke="#4a2d2d" stroke-width="1" stroke-linejoin="miter" fill-rule="evenodd" />
<path d="M -0.4 -10.2 L 35.6 -10.2 L 35.6 10.2 L -0.4 10.2 Z M 0.4 -6.6 L 20.3 -6.6 L 20.3 6.6 L 0.4 6.6 Z M 23.1 -6.6 L 35.6 -6.6 L 35.6 6.6 L 23.1 6.6 Z " fill="#c6c2c2" stroke="#4a2d2d" stroke-width="1" stroke-linejoin="miter" fill-rule="evenodd" />
<path d="M 0.5 -42.9 Q 7.5 -44.4 11.5 -49.2 L 11.5 -27.4 L 4.6 -26.9 L 4.6 -39.4 Z" fill="url(#hat)" stroke="#4a2d2d" stroke-width="0.8"/>
<line x1="7.8" y1="-29.5" x2="11" y2="-30.4" class="None" stroke="#6a5252" stroke-width="0.6"/>
<line x1="7.8" y1="-31.9" x2="11" y2="-32.8" class="None" stroke="#6a5252" stroke-width="0.6"/>
<line x1="7.8" y1="-34.3" x2="11" y2="-35.2" class="None" stroke="#6a5252" stroke-width="0.6"/>
<line x1="7.8" y1="-36.7" x2="11" y2="-37.6" class="None" stroke="#6a5252" stroke-width="0.6"/>
<line x1="7.8" y1="-39.1" x2="11" y2="-40" class="None" stroke="#6a5252" stroke-width="0.6"/>
<line x1="7.8" y1="-41.5" x2="11" y2="-42.4" class="None" stroke="#6a5252" stroke-width="0.6"/>
<path d="M -0.2 -39.6 L 4.8 -39.6 L 4.8 -27.4 L -0.2 -27.4 Z " fill="#8a7676" stroke="#4a2d2d" stroke-width="0.9" stroke-linejoin="miter" fill-rule="evenodd" />
<rect x="1.1" y="-38" width="2.6" height="3.6" fill="#fff" stroke="#4a2d2d" stroke-width="0.6" rx="1"/>
<rect x="1.1" y="-32.6" width="2.6" height="3.6" fill="#fff" stroke="#4a2d2d" stroke-width="0.6" rx="1"/>
<path d="M 42.4 -49.2 Q 46.2 -44.6 52.6 -43.4 L 49 -39.4 L 49 -27.4 L 42.4 -28.2 Z" fill="url(#hat)" stroke="#4a2d2d" stroke-width="0.8"/>
<line x1="43.1" y1="-30.9" x2="46.2" y2="-30" class="None" stroke="#6a5252" stroke-width="0.6"/>
<line x1="43.1" y1="-33.3" x2="46.2" y2="-32.4" class="None" stroke="#6a5252" stroke-width="0.6"/>
<line x1="43.1" y1="-35.7" x2="46.2" y2="-34.8" class="None" stroke="#6a5252" stroke-width="0.6"/>
<line x1="43.1" y1="-38.1" x2="46.2" y2="-37.2" class="None" stroke="#6a5252" stroke-width="0.6"/>
<line x1="43.1" y1="-40.5" x2="46.2" y2="-39.6" class="None" stroke="#6a5252" stroke-width="0.6"/>
<line x1="43.1" y1="-42.9" x2="46.2" y2="-42" class="None" stroke="#6a5252" stroke-width="0.6"/>
<path d="M 0 26.7 L 4.2 26.7 L 4.2 30.4 L 2.9 30.4 L 2.9 29.3 L 0 29.3 Z " fill="#c6c2c2" stroke="#4a2d2d" stroke-width="0.8" stroke-linejoin="miter" fill-rule="evenodd" />
<path d="M 0 40.9 L 5 40.9 L 5 33.2 L 3.7 31.8 L 2.5 33.2 L 3.3 34.2 L 3.3 39.2 L 0 39.2 Z " fill="#c6c2c2" stroke="#4a2d2d" stroke-width="0.8" stroke-linejoin="miter" fill-rule="evenodd" />
<path d="M 36.3 0 L 36.3 -10.2 L 30.7 -10.2 L 30.7 -13 L 53.1 -13 L 53.1 -27.4 L 48.6 -27.4 L 48.6 -39.6 L 54.6 -39.6 L 64.2 -39.6 L 64.2 -36.6 L 57.1 -36.6 L 57.1 -10.2 L 39.9 -10.2 L 39.9 0 L 39.9 0 L 39.9 10.2 L 57.1 10.2 L 57.1 36.6 L 64.2 36.6 L 64.2 39.6 L 54.6 39.6 L 48.6 39.6 L 48.6 27.4 L 53.1 27.4 L 53.1 13 L 30.7 13 L 30.7 10.2 L 36.3 10.2 L 36.3 0 Z " fill="#c6c2c2" stroke="#4a2d2d" stroke-width="1" stroke-linejoin="miter" fill-rule="evenodd" />
<rect x="50.4" y="-36.6" width="2.6" height="6.2" fill="#fff" stroke="#4a2d2d" stroke-width="0.6" rx="0.8"/>
<rect x="50.4" y="30.4" width="2.6" height="6.2" fill="#fff" stroke="#4a2d2d" stroke-width="0.6" rx="0.8"/>
<path d="M 52.3 -42.6 L 72.9 -42.6 L 72.9 42.6 L 52.3 42.6 L 52.3 40.5 L 70.4 40.5 L 70.4 -40.5 L 52.3 -40.5 Z " fill="#c6c2c2" stroke="#4a2d2d" stroke-width="1" stroke-linejoin="miter" fill-rule="evenodd" />
<line x1="56.5" y1="-39.3" x2="64.5" y2="-39.3" class="None" stroke="#4a2d2d" stroke-width="0.9"/>
<line x1="56.5" y1="39.3" x2="64.5" y2="39.3" class="None" stroke="#4a2d2d" stroke-width="0.9"/>
<path d="M 0 40.3 L 74 40.3 L 74 42.9 L 0 42.9 Z " fill="#c6c2c2" stroke="#4a2d2d" stroke-width="0.9" stroke-linejoin="miter" fill-rule="evenodd" />
<line x1="25" y1="0" x2="62" y2="0" class="None" stroke="#6a5555" stroke-width="0.6"/>
<rect x="27.9" y="-5.6" width="8" height="11.2" fill="#fff" stroke="#4a2d2d" stroke-width="0.9"/>
<line x1="30" y1="-5.6" x2="30" y2="5.6" class="None" stroke="#4a2d2d" stroke-width="0.6"/>
<line x1="32" y1="-5.6" x2="32" y2="5.6" class="None" stroke="#4a2d2d" stroke-width="0.6"/>
<line x1="34" y1="-5.6" x2="34" y2="5.6" class="None" stroke="#4a2d2d" stroke-width="0.6"/>
<line x1="27.9" y1="-2.6" x2="36" y2="-2.6" class="None" stroke="#4a2d2d" stroke-width="0.5"/>
<line x1="27.9" y1="2.6" x2="36" y2="2.6" class="None" stroke="#4a2d2d" stroke-width="0.5"/>
<rect x="39.9" y="-5.8" width="4.6" height="11.6" fill="#fff" stroke="#4a2d2d" stroke-width="0.9"/>
<line x1="42.2" y1="-5.8" x2="42.2" y2="5.8" class="None" stroke="#4a2d2d" stroke-width="0.6"/>
<path d="M 45.2 -3.8 L 46.1 3.8 L 47 -3.8 L 47.9 3.8 L 48.8 -3.8 L 49.7 3.8 L 50.6 -3.8 L 51.5 3.8 L 52.4 -3.8 L 53.3 3.8 L 54.2 -3.8 L 55.1 3.8 L 56 -3.8 L 56.9 3.8 L 57.8 -3.8 " fill="none" stroke="#3a1c1c" stroke-width="0.95"/>
<path d="M -61 42.5 L -57.8 42.5 L -57.8 49.4 L -34.7 49.4 L -34.7 42.5 L -31.5 42.5 L -31.5 49.4 L -8.7 49.4 L -8.7 42.5 L -5.5 42.5 L -5.5 56.9 L -8.7 56.9 L -8.7 51.7 L -57.8 51.7 L -57.8 86 L -53.5 86 L -53.5 88 L -56 88 L -56 92.5 L -53.5 92.5 L -53.5 94.5 L -57.8 94.5 L -57.8 95.9 L -61 95.9 Z " fill="#c6c2c2" stroke="#4a2d2d" stroke-width="1" stroke-linejoin="miter" fill-rule="evenodd" />
<path d="M -52 73.5 L -45.5 73.5 L -45.5 76.3 L -48.7 76.3 L -48.7 79.5 L -25.3 79.5 L -25.3 76.5 L -28.5 76.5 L -28.5 73.8 L 0 73.8 L 0 51.7 L -3.2 51.7 L -3.2 48.5 L 15.3 48.5 L 16.3 49.8 L 16.3 51.7 L 3.3 51.7 L 3.3 95.9 L -52 95.9 Z M -48.7 82.3 L -22.5 82.3 L -22.5 76.5 L 0 76.5 L 0 79.5 L -4 79.5 L -4 82.3 L 0 82.3 L 0 92.5 L -48.7 92.5 Z " fill="#c6c2c2" stroke="#4a2d2d" stroke-width="1" stroke-linejoin="miter" fill-rule="evenodd" />
<rect x="3.3" y="51.7" width="8.4" height="32.5" fill="url(#dots)" stroke="#4a2d2d" stroke-width="0.7"/>
<rect x="3.3" y="84.2" width="8.4" height="10.4" fill="#fff" stroke="#4a2d2d" stroke-width="0.7"/>
<line x1="3.3" y1="84.2" x2="11.7" y2="94.6" class="None" stroke="#4a2d2d" stroke-width="0.6"/>
<line x1="11.7" y1="84.2" x2="3.3" y2="94.6" class="None" stroke="#4a2d2d" stroke-width="0.6"/>
<rect x="-4.4" y="49.6" width="3.6" height="7.8" fill="#5a4444" rx="1.2"/>
<rect x="-56.6" y="87.4" width="3.4" height="5.8" fill="#5a4444" rx="1.4"/>
</g>
<polyline points="469.6,1179 493,1244.5 605,1244.5" fill="none" stroke="#5a4a4a" stroke-width="0.8"/>
<text x="495.4" y="1241" font-size="16.6" fill="#1a1212" textLength="109" lengthAdjust="spacingAndGlyphs">HCMQ130AM07</text>
<circle cx="426.4" cy="1236.6" r="13" fill="#fff" stroke="#5c5050" stroke-width="0.9"/>
<text x="426.4" y="1242.72" font-size="17" text-anchor="middle" fill="#1c1414">2</text>
<g transform="translate(734,1137.7) rotate(90)">
<path d="M 11.4 -94.4 L 11.4 -22.3 Q 11.4 -20.7 13 -20.7 L 40.6 -20.7 Q 42.2 -20.7 42.2 -22.3 L 42.2 -94.4" fill="#fff" stroke="#5f4b4b" stroke-width="0.9"/>
<line x1="42.2" y1="-22.3" x2="42.2" y2="-94.4" class="None" stroke="#fff" stroke-width="1.3"/>
<line x1="42.1" y1="-22.3" x2="42.1" y2="-94.4" class="None" stroke="#9a8c8c" stroke-width="0.8"/>
<line x1="39.9" y1="-20.7" x2="39.9" y2="-94.4" class="None" stroke="#9a8c8c" stroke-width="0.8"/>
<line x1="17" y1="-20.7" x2="17" y2="-94.4" class="None" stroke="#9a8c8c" stroke-width="0.8"/>
<line x1="18.7" y1="-21.7" x2="18.7" y2="-94.4" class="None" stroke="#9a8c8c" stroke-width="0.8"/>
<line x1="35" y1="-20.7" x2="35" y2="-94.4" class="None" stroke="#5f4b4b" stroke-width="0.95"/>
<rect x="18.7" y="-34.5" width="16.3" height="9.4" fill="url(#dots)" stroke="#4a3333" stroke-width="0.6"/>
<path d="M 18.7 -25.1 L 18.7 -21.6 Q 26.85 -25 35 -21.6 L 35 -25.1 Q 26.85 -23.5 18.7 -25.1 Z" fill="#2a1414"/>
<path d="M 11.4 147.6 L 11.4 53.2 Q 11.4 51.6 13 51.6 L 40.6 51.6 Q 42.2 51.6 42.2 53.2 L 42.2 147.6" fill="#fff" stroke="#5f4b4b" stroke-width="0.9"/>
<line x1="42.2" y1="53.2" x2="42.2" y2="147.6" class="None" stroke="#fff" stroke-width="1.3"/>
<line x1="42.1" y1="53.2" x2="42.1" y2="147.6" class="None" stroke="#9a8c8c" stroke-width="0.8"/>
<line x1="39.9" y1="51.6" x2="39.9" y2="147.6" class="None" stroke="#9a8c8c" stroke-width="0.8"/>
<line x1="17" y1="51.6" x2="17" y2="147.6" class="None" stroke="#9a8c8c" stroke-width="0.8"/>
<line x1="18.7" y1="52.6" x2="18.7" y2="147.6" class="None" stroke="#9a8c8c" stroke-width="0.8"/>
<line x1="35" y1="51.6" x2="35" y2="147.6" class="None" stroke="#5f4b4b" stroke-width="0.95"/>
<rect x="18.7" y="56" width="16.3" height="9.4" fill="url(#dots)" stroke="#4a3333" stroke-width="0.6"/>
<path d="M 18.7 56 L 18.7 52.5 Q 26.85 55.9 35 52.5 L 35 56 Q 26.85 54.4 18.7 56 Z" fill="#2a1414"/>
<path d="M -168.1 -42.6 L 0 -42.6 L 0 42.6 L -168.1 42.6 Z M -163.7 -38.7 L -4.4 -38.7 L -4.4 38.7 L -163.7 38.7 Z " fill="#c6c2c2" stroke="#4a2d2d" stroke-width="1" stroke-linejoin="miter" fill-rule="evenodd" />
<path d="M -0.4 -10.2 L 35.6 -10.2 L 35.6 10.2 L -0.4 10.2 Z M 0.4 -6.6 L 20.3 -6.6 L 20.3 6.6 L 0.4 6.6 Z M 23.1 -6.6 L 35.6 -6.6 L 35.6 6.6 L 23.1 6.6 Z " fill="#c6c2c2" stroke="#4a2d2d" stroke-width="1" stroke-linejoin="miter" fill-rule="evenodd" />
<path d="M 0.5 -42.9 Q 7.5 -44.4 11.5 -49.2 L 11.5 -27.4 L 4.6 -26.9 L 4.6 -39.4 Z" fill="url(#hat)" stroke="#4a2d2d" stroke-width="0.8"/>
<line x1="7.8" y1="-29.5" x2="11" y2="-30.4" class="None" stroke="#6a5252" stroke-width="0.6"/>
<line x1="7.8" y1="-31.9" x2="11" y2="-32.8" class="None" stroke="#6a5252" stroke-width="0.6"/>
<line x1="7.8" y1="-34.3" x2="11" y2="-35.2" class="None" stroke="#6a5252" stroke-width="0.6"/>
<line x1="7.8" y1="-36.7" x2="11" y2="-37.6" class="None" stroke="#6a5252" stroke-width="0.6"/>
<line x1="7.8" y1="-39.1" x2="11" y2="-40" class="None" stroke="#6a5252" stroke-width="0.6"/>
<line x1="7.8" y1="-41.5" x2="11" y2="-42.4" class="None" stroke="#6a5252" stroke-width="0.6"/>
<path d="M -0.2 -39.6 L 4.8 -39.6 L 4.8 -27.4 L -0.2 -27.4 Z " fill="#8a7676" stroke="#4a2d2d" stroke-width="0.9" stroke-linejoin="miter" fill-rule="evenodd" />
<rect x="1.1" y="-38" width="2.6" height="3.6" fill="#fff" stroke="#4a2d2d" stroke-width="0.6" rx="1"/>
<rect x="1.1" y="-32.6" width="2.6" height="3.6" fill="#fff" stroke="#4a2d2d" stroke-width="0.6" rx="1"/>
<path d="M 42.4 -49.2 Q 46.2 -44.6 52.6 -43.4 L 49 -39.4 L 49 -27.4 L 42.4 -28.2 Z" fill="url(#hat)" stroke="#4a2d2d" stroke-width="0.8"/>
<line x1="43.1" y1="-30.9" x2="46.2" y2="-30" class="None" stroke="#6a5252" stroke-width="0.6"/>
<line x1="43.1" y1="-33.3" x2="46.2" y2="-32.4" class="None" stroke="#6a5252" stroke-width="0.6"/>
<line x1="43.1" y1="-35.7" x2="46.2" y2="-34.8" class="None" stroke="#6a5252" stroke-width="0.6"/>
<line x1="43.1" y1="-38.1" x2="46.2" y2="-37.2" class="None" stroke="#6a5252" stroke-width="0.6"/>
<line x1="43.1" y1="-40.5" x2="46.2" y2="-39.6" class="None" stroke="#6a5252" stroke-width="0.6"/>
<line x1="43.1" y1="-42.9" x2="46.2" y2="-42" class="None" stroke="#6a5252" stroke-width="0.6"/>
<path d="M 0 26.7 L 4.2 26.7 L 4.2 30.4 L 2.9 30.4 L 2.9 29.3 L 0 29.3 Z " fill="#c6c2c2" stroke="#4a2d2d" stroke-width="0.8" stroke-linejoin="miter" fill-rule="evenodd" />
<path d="M 0 40.9 L 5 40.9 L 5 33.2 L 3.7 31.8 L 2.5 33.2 L 3.3 34.2 L 3.3 39.2 L 0 39.2 Z " fill="#c6c2c2" stroke="#4a2d2d" stroke-width="0.8" stroke-linejoin="miter" fill-rule="evenodd" />
<path d="M 36.3 0 L 36.3 -10.2 L 30.7 -10.2 L 30.7 -13 L 53.1 -13 L 53.1 -27.4 L 48.6 -27.4 L 48.6 -39.6 L 54.6 -39.6 L 64.2 -39.6 L 64.2 -36.6 L 57.1 -36.6 L 57.1 -10.2 L 39.9 -10.2 L 39.9 0 L 39.9 0 L 39.9 10.2 L 57.1 10.2 L 57.1 36.6 L 64.2 36.6 L 64.2 39.6 L 54.6 39.6 L 48.6 39.6 L 48.6 27.4 L 53.1 27.4 L 53.1 13 L 30.7 13 L 30.7 10.2 L 36.3 10.2 L 36.3 0 Z " fill="#c6c2c2" stroke="#4a2d2d" stroke-width="1" stroke-linejoin="miter" fill-rule="evenodd" />
<rect x="50.4" y="-36.6" width="2.6" height="6.2" fill="#fff" stroke="#4a2d2d" stroke-width="0.6" rx="0.8"/>
<rect x="50.4" y="30.4" width="2.6" height="6.2" fill="#fff" stroke="#4a2d2d" stroke-width="0.6" rx="0.8"/>
<path d="M 52.3 -42.6 L 72.9 -42.6 L 72.9 42.6 L 52.3 42.6 L 52.3 40.5 L 70.4 40.5 L 70.4 -40.5 L 52.3 -40.5 Z " fill="#c6c2c2" stroke="#4a2d2d" stroke-width="1" stroke-linejoin="miter" fill-rule="evenodd" />
<line x1="56.5" y1="-39.3" x2="64.5" y2="-39.3" class="None" stroke="#4a2d2d" stroke-width="0.9"/>
<line x1="56.5" y1="39.3" x2="64.5" y2="39.3" class="None" stroke="#4a2d2d" stroke-width="0.9"/>
<path d="M 0 40.3 L 74 40.3 L 74 42.9 L 0 42.9 Z " fill="#c6c2c2" stroke="#4a2d2d" stroke-width="0.9" stroke-linejoin="miter" fill-rule="evenodd" />
<line x1="25" y1="0" x2="62" y2="0" class="None" stroke="#6a5555" stroke-width="0.6"/>
<rect x="27.9" y="-5.6" width="8" height="11.2" fill="#fff" stroke="#4a2d2d" stroke-width="0.9"/>
<line x1="30" y1="-5.6" x2="30" y2="5.6" class="None" stroke="#4a2d2d" stroke-width="0.6"/>
<line x1="32" y1="-5.6" x2="32" y2="5.6" class="None" stroke="#4a2d2d" stroke-width="0.6"/>
<line x1="34" y1="-5.6" x2="34" y2="5.6" class="None" stroke="#4a2d2d" stroke-width="0.6"/>
<line x1="27.9" y1="-2.6" x2="36" y2="-2.6" class="None" stroke="#4a2d2d" stroke-width="0.5"/>
<line x1="27.9" y1="2.6" x2="36" y2="2.6" class="None" stroke="#4a2d2d" stroke-width="0.5"/>
<rect x="39.9" y="-5.8" width="4.6" height="11.6" fill="#fff" stroke="#4a2d2d" stroke-width="0.9"/>
<line x1="42.2" y1="-5.8" x2="42.2" y2="5.8" class="None" stroke="#4a2d2d" stroke-width="0.6"/>
<path d="M 45.2 -3.8 L 46.1 3.8 L 47 -3.8 L 47.9 3.8 L 48.8 -3.8 L 49.7 3.8 L 50.6 -3.8 L 51.5 3.8 L 52.4 -3.8 L 53.3 3.8 L 54.2 -3.8 L 55.1 3.8 L 56 -3.8 L 56.9 3.8 L 57.8 -3.8 " fill="none" stroke="#3a1c1c" stroke-width="0.95"/>
<path d="M -61 42.5 L -57.8 42.5 L -57.8 49.4 L -34.7 49.4 L -34.7 42.5 L -31.5 42.5 L -31.5 49.4 L -8.7 49.4 L -8.7 42.5 L -5.5 42.5 L -5.5 56.9 L -8.7 56.9 L -8.7 51.7 L -57.8 51.7 L -57.8 86 L -53.5 86 L -53.5 88 L -56 88 L -56 92.5 L -53.5 92.5 L -53.5 94.5 L -57.8 94.5 L -57.8 95.9 L -61 95.9 Z " fill="#c6c2c2" stroke="#4a2d2d" stroke-width="1" stroke-linejoin="miter" fill-rule="evenodd" />
<path d="M -52 73.5 L -45.5 73.5 L -45.5 76.3 L -48.7 76.3 L -48.7 79.5 L -25.3 79.5 L -25.3 76.5 L -28.5 76.5 L -28.5 73.8 L 0 73.8 L 0 51.7 L -3.2 51.7 L -3.2 48.5 L 15.3 48.5 L 16.3 49.8 L 16.3 51.7 L 3.3 51.7 L 3.3 95.9 L -52 95.9 Z M -48.7 82.3 L -22.5 82.3 L -22.5 76.5 L 0 76.5 L 0 79.5 L -4 79.5 L -4 82.3 L 0 82.3 L 0 92.5 L -48.7 92.5 Z " fill="#c6c2c2" stroke="#4a2d2d" stroke-width="1" stroke-linejoin="miter" fill-rule="evenodd" />
<rect x="3.3" y="51.7" width="8.4" height="32.5" fill="url(#dots)" stroke="#4a2d2d" stroke-width="0.7"/>
<rect x="3.3" y="84.2" width="8.4" height="10.4" fill="#fff" stroke="#4a2d2d" stroke-width="0.7"/>
<line x1="3.3" y1="84.2" x2="11.7" y2="94.6" class="None" stroke="#4a2d2d" stroke-width="0.6"/>
<line x1="11.7" y1="84.2" x2="3.3" y2="94.6" class="None" stroke="#4a2d2d" stroke-width="0.6"/>
<rect x="-4.4" y="49.6" width="3.6" height="7.8" fill="#5a4444" rx="1.2"/>
<rect x="-56.6" y="87.4" width="3.4" height="5.8" fill="#5a4444" rx="1.4"/>
</g>
<circle cx="732.5" cy="1230.8" r="13" fill="#fff" stroke="#5c5050" stroke-width="0.9"/>
<text x="732.5" y="1236.92" font-size="17" text-anchor="middle" fill="#1c1414">3</text>
<text x="48.2" y="1325.9" font-size="16.6" font-weight="bold" fill="#1b86d6" stroke="#1b86d6" stroke-width="0.4" textLength="32.4" lengthAdjust="spacing">021</text>
<polygon points="84.6,1328.6 86.6,1328.6 91,1313.2 89,1313.2" style="fill:#1b86d6" />
<text x="91.4" y="1319.2" font-size="7" fill="#1d1d1d" textLength="42.6" lengthAdjust="spacingAndGlyphs">Expert Brand</text>
<text x="91.4" y="1326.4" font-size="7" fill="#1d1d1d" textLength="68.6" lengthAdjust="spacingAndGlyphs">Weichang Aluminium</text>
</svg>
</body></html>
